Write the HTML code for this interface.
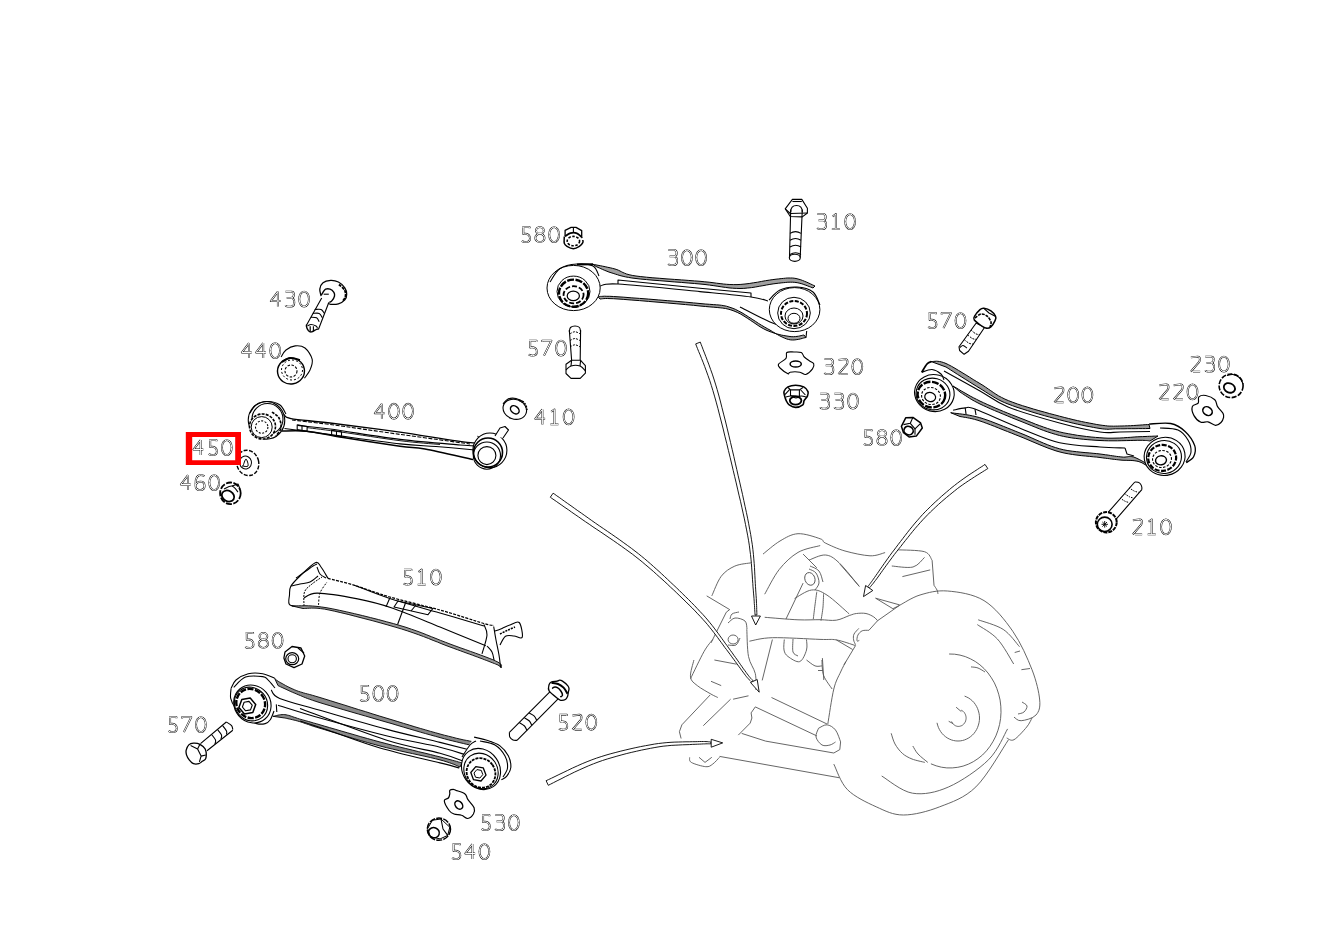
<!DOCTYPE html>
<html><head><meta charset="utf-8"><style>
html,body{margin:0;padding:0;background:#fff;width:1326px;height:938px;overflow:hidden}
svg{display:block}
</style></head><body>
<svg width="1326" height="938" viewBox="0 0 1326 938">
<g fill="none" stroke="#000" stroke-width="1.1" stroke-linejoin="round" stroke-linecap="butt">
<g id="p300">
<path d="M593.0,264.3 L594.3,264.6 L596.0,264.9 L598.0,265.3 L600.3,265.7 L602.7,266.2 L605.2,266.7 L607.8,267.3 L610.3,267.8 L612.7,268.4 L615.0,269.0 L616.9,269.6 L618.6,270.3 L620.0,271.0 L621.4,271.7 L622.9,272.5 L624.6,273.2 L626.6,274.0 L629.1,274.7 L632.2,275.4 L636.0,276.0 L640.8,276.6 L646.5,277.2 L652.9,277.8 L659.8,278.3 L667.0,278.9 L674.3,279.4 L681.4,279.9 L688.2,280.4 L694.5,280.9 L700.0,281.3 L704.8,281.8 L709.1,282.2 L713.0,282.7 L716.6,283.2 L720.1,283.6 L723.4,284.0 L726.6,284.3 L729.9,284.5 L733.3,284.6 L737.0,284.6 L740.9,284.4 L745.0,284.0 L749.2,283.5 L753.4,282.8 L757.6,282.2 L761.7,281.4 L765.6,280.7 L769.4,280.1 L772.9,279.6 L776.0,279.2 L778.8,278.9 L781.2,278.6 L783.4,278.4 L785.4,278.2 L787.2,278.0 L789.0,278.0 L790.7,278.0 L792.4,278.0 L794.1,278.2 L796.0,278.5 L798.0,279.0 L800.2,279.6 L802.4,280.4 L804.6,281.3 L806.8,282.2 L808.8,283.1 L810.7,284.0 L812.4,284.8 L813.9,285.5 L815.0,286.0 L813.0,288.0 L812.0,287.6 L810.7,287.1 L809.2,286.5 L807.6,285.9 L805.8,285.2 L803.8,284.5 L801.9,283.8 L799.9,283.3 L797.9,282.8 L796.0,282.5 L794.2,282.3 L792.4,282.2 L790.7,282.2 L789.0,282.2 L787.2,282.3 L785.3,282.5 L783.3,282.7 L781.1,282.9 L778.7,283.2 L776.0,283.5 L773.1,283.9 L769.9,284.4 L766.5,285.0 L762.9,285.7 L759.2,286.3 L755.5,287.0 L751.6,287.6 L747.7,288.0 L743.8,288.4 L740.0,288.5 L736.3,288.4 L732.6,288.2 L729.0,287.9 L725.4,287.4 L721.8,286.9 L717.9,286.3 L713.9,285.7 L709.6,285.1 L705.0,284.5 L700.0,284.0 L694.4,283.5 L688.1,283.0 L681.3,282.4 L674.2,281.9 L667.0,281.3 L659.9,280.7 L653.0,280.2 L646.6,279.6 L640.9,279.1 L636.0,278.5 L631.9,278.0 L628.5,277.4 L625.6,276.9 L623.1,276.3 L621.0,275.8 L619.1,275.3 L617.4,274.7 L615.6,274.2 L613.9,273.6 L612.0,273.0 L610.0,272.4 L608.0,271.7 L606.1,270.9 L604.3,270.2 L602.5,269.4 L600.9,268.7 L599.4,268.0 L598.0,267.4 L596.9,266.9 L596.0,266.5Z" fill="#a0a0a0" stroke="#000" stroke-width="1"/>
<path d="M577.0,264.5L593.0,264.3" fill="none" stroke="#000" stroke-width="2"/>
<path d="M618.0,284.0 L618.0,280.0 L700.0,288.3 L751.0,293.0 L751.0,297.0" fill="none" stroke="#000" stroke-width="1.1"/>
<path d="M600.0,286.0C603.0,285.7 601.3,283.1 618.0,284.0C634.7,284.9 677.8,289.4 700.0,291.6C722.2,293.8 739.7,295.4 751.0,297.0C762.3,298.6 765.2,300.3 768.0,301.0" fill="none" stroke="#000" stroke-width="1.1"/>
<path d="M598.0,296.6 L598.9,296.6 L599.7,296.5 L600.6,296.4 L601.6,296.4 L602.9,296.3 L604.6,296.2 L606.8,296.3 L609.7,296.3 L613.4,296.5 L618.0,296.8 L623.9,297.2 L631.2,297.8 L639.6,298.4 L648.7,299.1 L658.2,299.9 L667.8,300.7 L677.1,301.4 L685.8,302.2 L693.5,302.9 L700.0,303.5 L705.2,304.0 L709.6,304.3 L713.3,304.6 L716.4,304.8 L719.1,305.0 L721.6,305.3 L723.9,305.7 L726.4,306.2 L729.0,307.0 L732.0,308.0 L735.3,309.3 L738.6,311.0 L742.0,312.8 L745.4,314.9 L748.7,317.0 L752.1,319.2 L755.4,321.3 L758.5,323.4 L761.6,325.3 L764.5,327.0 L767.3,328.6 L770.0,330.1 L772.6,331.7 L775.1,333.2 L777.5,334.6 L779.8,335.9 L782.1,337.0 L784.3,338.0 L786.5,338.9 L788.6,339.5 L790.7,339.9 L792.8,340.0 L794.9,339.9 L796.9,339.6 L798.8,339.3 L800.6,338.9 L802.3,338.4 L803.7,338.0 L805.0,337.7 L806.0,337.5 L804.0,335.0 L803.2,335.1 L802.3,335.3 L801.1,335.6 L799.9,335.9 L798.5,336.2 L797.0,336.4 L795.4,336.6 L793.7,336.7 L791.9,336.7 L790.0,336.5 L788.0,336.2 L786.0,335.9 L783.8,335.5 L781.5,335.1 L779.1,334.5 L776.7,333.9 L774.1,333.1 L771.5,332.2 L768.8,331.2 L766.0,330.0 L763.1,328.5 L760.1,326.8 L757.1,324.8 L753.9,322.6 L750.6,320.4 L747.3,318.2 L744.0,316.1 L740.7,314.1 L737.3,312.4 L734.0,311.0 L730.9,309.9 L728.1,309.1 L725.5,308.5 L722.8,308.1 L720.1,307.8 L717.2,307.5 L713.8,307.2 L709.9,306.9 L705.4,306.5 L700.0,306.0 L693.5,305.3 L685.6,304.6 L676.9,303.8 L667.6,303.0 L658.0,302.2 L648.5,301.4 L639.4,300.6 L631.1,300.0 L623.8,299.4 L618.0,299.0 L613.5,298.7 L610.0,298.6 L607.3,298.5 L605.3,298.5 L603.9,298.6 L602.8,298.7 L602.1,298.8 L601.4,298.9 L600.8,299.0 L600.0,299.0Z" fill="#a0a0a0" stroke="#000" stroke-width="1"/>
<path d="M806.0,337.5L806.7,331.0" fill="none" stroke="#000" stroke-width="1.1"/>
<path d="M740.0,307.0C745.0,309.5 760.8,318.0 770.0,322.0C779.2,326.0 790.8,329.5 795.0,331.0" fill="none" stroke="#000" stroke-width="1.1"/>
<ellipse cx="573.6" cy="288.0" rx="26.6" ry="22.6" fill="#fff" stroke="#000" stroke-width="1"/>
<path d="M550.0,282.0C551.7,279.8 555.5,271.5 560.0,268.5C564.5,265.5 571.5,264.4 577.0,264.0C582.5,263.6 589.3,264.0 593.0,266.0C596.7,268.0 598.0,274.3 599.0,276.0" fill="none" stroke="#000" stroke-width="1.1"/>
<ellipse cx="573.5" cy="291.5" rx="16.5" ry="15.4" fill="none" stroke="#000" stroke-width="1"/>
<ellipse cx="573.6" cy="293.2" rx="14.6" ry="13.6" fill="none" stroke="#000" stroke-width="2.4" stroke-dasharray="7 1.5"/>
<ellipse cx="573.6" cy="294.8" rx="10.0" ry="8.6" fill="none" stroke="#000" stroke-width="1.8" stroke-dasharray="5 2"/>
<ellipse cx="573.3" cy="295.9" rx="6.1" ry="4.8" fill="none" stroke="#000" stroke-width="1.2"/>
<ellipse cx="794.6" cy="309.6" rx="25.3" ry="22.0" fill="#fff" stroke="#000" stroke-width="1"/>
<path d="M769.0,300.0C770.8,298.3 775.3,292.2 780.0,290.0C784.7,287.8 791.5,286.7 797.0,287.0C802.5,287.3 809.2,289.0 813.0,292.0C816.8,295.0 818.8,302.8 820.0,305.0" fill="none" stroke="#000" stroke-width="1.1"/>
<ellipse cx="794.0" cy="313.0" rx="16.3" ry="15.7" fill="none" stroke="#000" stroke-width="1"/>
<ellipse cx="794.0" cy="313.5" rx="13.0" ry="12.5" fill="none" stroke="#000" stroke-width="2" stroke-dasharray="4 1.5"/>
<ellipse cx="794.0" cy="316.0" rx="9.0" ry="8.0" fill="none" stroke="#000" stroke-width="1"/>
<ellipse cx="794.0" cy="318.3" rx="6.0" ry="5.0" fill="none" stroke="#000" stroke-width="1"/>
</g>
<g id="p310">
<path d="M792.4,199.4 L801.8,199.4 L807.4,208.3 L807.4,213.0 L802.3,216.9 L790.3,216.5 L785.2,208.8Z" fill="#fff" stroke="#000" stroke-width="1.1"/>
<path d="M785.2,208.8 L790.3,213.5 L807.4,213.0" fill="none" stroke="#000" stroke-width="1.1"/>
<path d="M790.7,209.5 L789.5,257.5 M802.3,209.6 L800.2,257.5" fill="none" stroke="#000" stroke-width="1.1"/>
<path d="M790.7,212 Q790.7,205.5 796.5,205.5 Q802.3,205.5 802.3,212" fill="none" stroke="#000" stroke-width="1.1"/>
<path d="M792.4,201.5 L801.8,201.5" fill="none" stroke="#000" stroke-width="1.1"/>
<ellipse cx="794.8" cy="257.8" rx="5.5" ry="3.6" fill="none" stroke="#000" stroke-width="1.1"/>
<path d="M790,233.4 Q795.5,229.9 801,233.4" fill="none" stroke="#000" stroke-width="1.1"/>
<path d="M790,240.2 Q795.5,236.7 801,240.2" fill="none" stroke="#000" stroke-width="1.1"/>
<path d="M790,247.0 Q795.5,243.5 801,247.0" fill="none" stroke="#000" stroke-width="1.1"/>
<path d="M790,254.5 Q795.5,251 801,254.5" fill="none" stroke="#000" stroke-width="1.1"/>
</g>
<g id="p580a">
<path d="M565.1,236.2 L565.1,230.4 L571.1,227.4 L576.0,227.4 L581.7,230.6 L581.7,236.0" fill="#fff" stroke="#000" stroke-width="1.3"/>
<path d="M573.4,227.4 L573.4,232.4" fill="none" stroke="#000" stroke-width="1.1"/>
<path d="M564.3,236.6C564.3,237.7 563.8,241.8 564.3,243.4C564.8,245.0 565.5,245.5 567.0,246.4C568.5,247.3 571.3,248.7 573.4,248.7C575.5,248.7 577.8,247.4 579.4,246.4C581.0,245.4 582.2,243.7 582.8,242.6C583.4,241.5 582.8,240.4 582.8,240.0" fill="#fff" stroke="#000" stroke-width="1.5"/>
<path d="M565.1,236.4C566.0,235.9 568.5,233.7 570.4,233.2C572.3,232.7 574.4,232.4 576.4,233.2C578.4,233.9 581.4,236.9 582.4,237.7" fill="none" stroke="#000" stroke-width="1.8"/>
<ellipse cx="573.4" cy="241.1" rx="6.2" ry="4.7" fill="none" stroke="#000" stroke-width="1.6" stroke-dasharray="2.5 1.5"/>
</g>
<g id="p570a">
<path d="M569.3,330 L571.6,360 M580.6,330 L580.2,360" fill="none" stroke="#000" stroke-width="1.1"/>
<path d="M569.3,332.0C569.5,331.2 569.5,328.5 570.5,327.5C571.5,326.5 573.5,326.0 575.0,326.0C576.5,326.0 578.6,326.5 579.5,327.5C580.4,328.5 580.4,331.2 580.6,332.0" fill="none" stroke="#000" stroke-width="1.1"/>
<path d="M570.0,333.7C570.8,333.4 573.3,331.7 575.0,331.7C576.7,331.7 579.2,333.4 580.0,333.7" fill="none" stroke="#000" stroke-width="1" stroke-dasharray="2 1.2"/>
<path d="M570.0,340.5C570.8,340.2 573.3,338.5 575.0,338.5C576.7,338.5 579.2,340.2 580.0,340.5" fill="none" stroke="#000" stroke-width="1" stroke-dasharray="2 1.2"/>
<path d="M570.0,346.8C570.8,346.5 573.3,344.8 575.0,344.8C576.7,344.8 579.2,346.5 580.0,346.8" fill="none" stroke="#000" stroke-width="1" stroke-dasharray="2 1.2"/>
<path d="M566.0,364.3 L571.6,360.3 L580.6,360.3 L585.4,365.7 L585.4,373.2 L580.2,378.4 L571.0,378.4 L566.0,373.5Z" fill="#fff" stroke="#000" stroke-width="1.1"/>
<path d="M566.0,370.0C566.8,369.3 568.7,366.7 571.0,366.0C573.3,365.3 577.6,365.2 580.0,366.0C582.4,366.8 584.6,370.2 585.5,371.0" fill="none" stroke="#000" stroke-width="1.1"/>
<path d="M571.6,360.3 L571,366 M580.6,360.3 L580,366" fill="none" stroke="#000" stroke-width="1.1"/>
</g>
<g id="p320">
<path d="M786.8,352.5C788.1,351.4 791.6,352.0 794.0,352.0C796.4,352.0 799.6,351.7 801.3,352.5C803.0,353.3 802.9,355.6 804.3,357.0C805.7,358.4 808.0,359.9 809.6,361.0C811.2,362.1 813.2,362.4 813.7,363.7C814.2,365.0 813.8,367.1 812.5,368.9C811.2,370.7 807.9,373.9 805.8,374.5C803.7,375.1 802.5,372.6 799.9,372.2C797.3,371.8 792.0,371.9 790.0,372.2C788.0,372.4 789.7,374.4 788.0,373.7C786.3,373.0 781.6,369.6 780.0,368.0C778.4,366.4 777.6,365.6 778.6,364.0C779.6,362.4 784.6,360.3 786.0,358.4C787.4,356.5 785.5,353.6 786.8,352.5Z" fill="none" stroke="#000" stroke-width="1.1"/>
<ellipse cx="795.7" cy="364.0" rx="5.6" ry="3.1" fill="none" stroke="#000" stroke-width="1.5"/>
</g>
<g id="p330">
<path d="M784.1,391.2C784.7,389.8 786.0,387.9 787.9,386.9C789.8,385.9 793.0,385.2 795.6,385.2C798.2,385.2 801.6,385.8 803.7,386.9C805.8,388.0 807.4,390.1 808.0,391.6C808.6,393.1 808.1,394.4 807.5,395.9C806.9,397.4 804.9,399.1 804.1,400.6C803.3,402.1 804.2,403.8 802.8,404.9C801.4,406.0 797.9,407.4 795.6,407.4C793.3,407.4 790.8,406.0 789.2,404.9C787.6,403.8 787.0,402.2 786.2,400.6C785.4,399.0 784.9,397.1 784.5,395.5C784.1,393.9 783.5,392.6 784.1,391.2Z" fill="#fff" stroke="#000" stroke-width="1.6"/>
<path d="M790.5,389.9 L799.4,389.9 L799.4,396.3 L790.5,395.5Z" fill="none" stroke="#000" stroke-width="1.1"/>
<path d="M784.9,394.6 L790.0,389.1" fill="none" stroke="#000" stroke-width="1.1"/>
<path d="M800.3,389.5 L805.4,395.0" fill="none" stroke="#000" stroke-width="1.1"/>
<path d="M788.0,387.5 L790.5,389.9" fill="none" stroke="#000" stroke-width="1.1"/>
<path d="M799.4,389.9 L803.0,387.5" fill="none" stroke="#000" stroke-width="1.1"/>
<ellipse cx="795.6" cy="400.6" rx="5.8" ry="4.0" fill="none" stroke="#000" stroke-width="1.8"/>
<path d="M786.0,397.0C786.8,396.8 789.3,395.8 791.0,396.0C792.7,396.2 794.3,398.0 796.0,398.0C797.7,398.0 799.3,396.2 801.0,396.0C802.7,395.8 805.2,396.8 806.0,397.0" fill="none" stroke="#000" stroke-width="1.1"/>
</g>
<g id="p400">
<path d="M284.0,414.5C285.2,415.2 283.3,417.2 291.0,418.6C298.7,420.0 311.8,420.8 330.0,423.0C348.2,425.2 376.2,428.8 400.0,432.1C423.8,435.4 460.0,442.2 473.0,442.8C486.0,443.4 477.2,437.1 478.0,436.0" fill="none" stroke="#000" stroke-width="1.3"/>
<path d="M292.0,420.0C298.3,420.8 312.0,422.1 330.0,424.5C348.0,426.9 376.7,431.1 400.0,434.4C423.3,437.6 458.3,442.4 470.0,444.0" fill="none" stroke="#000" stroke-width="1.1" stroke-dasharray="4 1.5"/>
<path d="M298.0,425.4C303.3,426.0 313.0,426.7 330.0,429.0C347.0,431.3 378.3,436.7 400.0,439.4C421.7,442.1 447.3,443.9 460.0,445.0C472.7,446.1 473.3,445.8 476.0,446.0" fill="none" stroke="#000" stroke-width="1.1"/>
<path d="M307.0,427.6C312.8,428.4 326.0,429.9 341.5,432.1C357.0,434.3 383.6,438.6 400.0,440.7C416.4,442.8 433.3,443.9 440.0,444.5" fill="none" stroke="#000" stroke-width="0.9"/>
<path d="M284.5,428.5C292.5,429.6 313.2,432.3 332.5,434.9C351.8,437.5 382.8,442.0 400.0,443.9C417.2,445.8 423.5,445.5 436.0,446.5C448.5,447.5 468.5,449.4 475.0,450.0" fill="none" stroke="#000" stroke-width="1.1"/>
<path d="M282.0,431.0C286.2,431.0 296.8,430.1 307.0,431.2C317.2,432.3 327.8,435.1 343.3,437.6C358.8,440.1 386.4,444.3 400.0,446.2C413.6,448.1 412.8,446.8 425.0,449.0C437.2,451.2 465.0,457.8 473.0,459.5" fill="none" stroke="#000" stroke-width="1.5"/>
<path d="M297.2,424.9 L307.1,426.5 L307.1,431.2 L297.2,429.6Z" fill="none" stroke="#000" stroke-width="1.1"/>
<path d="M302.0,425.7 L302.0,430.4" fill="none" stroke="#000" stroke-width="1.1"/>
<path d="M331.6,430.3 L341.5,431.8 L341.5,436.7 L331.6,435.2Z" fill="none" stroke="#000" stroke-width="1.1"/>
<path d="M336.5,431.0 L336.5,436.0" fill="none" stroke="#000" stroke-width="1.1"/>
<ellipse cx="489.9" cy="450.3" rx="17.0" ry="17.3" fill="#fff" stroke="#000" stroke-width="1.1"/>
<ellipse cx="488.0" cy="452.5" rx="14.5" ry="14.5" fill="none" stroke="#000" stroke-width="1.6"/>
<ellipse cx="486.9" cy="455.6" rx="13.6" ry="13.6" fill="none" stroke="#000" stroke-width="1.1"/>
<ellipse cx="486.9" cy="455.6" rx="9.0" ry="9.0" fill="none" stroke="#000" stroke-width="1.1"/>
<path d="M495.0,436.0 L500.0,428.0 L505.0,426.5 L508.5,430.0 L503.0,438.0" fill="#fff" stroke="#000" stroke-width="1.1"/>
<ellipse cx="266.5" cy="420.3" rx="18.2" ry="18.8" transform="rotate(-10 266.5 420.3)" fill="#fff" stroke="#000" stroke-width="1.1"/>
<path d="M250.0,413.0C251.0,411.7 253.0,406.9 256.0,405.0C259.0,403.1 264.0,401.5 268.0,401.5C272.0,401.5 277.0,402.9 280.0,405.0C283.0,407.1 285.0,412.5 286.0,414.0" fill="none" stroke="#000" stroke-width="1.1"/>
<ellipse cx="267.5" cy="419.0" rx="15.5" ry="15.5" fill="none" stroke="#000" stroke-width="1.1"/>
<ellipse cx="262.5" cy="426.5" rx="13.0" ry="12.5" fill="#fff" stroke="#000" stroke-width="1.6" stroke-dasharray="3 1.2"/>
<ellipse cx="261.7" cy="427.1" rx="10.5" ry="10.5" fill="none" stroke="#000" stroke-width="1"/>
<ellipse cx="261.7" cy="427.1" rx="6.2" ry="6.2" fill="none" stroke="#000" stroke-width="1.1" stroke-dasharray="2 1.5"/>
<path d="M272.0,412.0C273.2,413.0 277.5,415.3 279.0,418.0C280.5,420.7 281.5,425.0 281.0,428.0C280.5,431.0 276.8,434.7 276.0,436.0" fill="none" stroke="#000" stroke-width="1.6" stroke-dasharray="3 1"/>
</g>
<g id="p410">
<ellipse cx="514.8" cy="409.3" rx="12.0" ry="9.8" transform="rotate(20 514.8 409.3)" fill="#fff" stroke="#000" stroke-width="1.1"/>
<path d="M503.0,404.0C503.8,403.2 505.8,399.9 508.0,399.0C510.2,398.1 513.3,398.0 516.0,398.5C518.7,399.0 522.7,401.4 524.0,402.0" fill="none" stroke="#000" stroke-width="1.1"/>
<ellipse cx="514.8" cy="409.8" rx="4.8" ry="3.5" transform="rotate(40 514.8 409.8)" fill="none" stroke="#000" stroke-width="1.5"/>
<path d="M519.0,400.0C520.0,400.7 523.7,402.3 525.0,404.0C526.3,405.7 526.7,409.0 527.0,410.0" fill="none" stroke="#000" stroke-width="1.8" stroke-dasharray="2 1"/>
</g>
<g id="p430">
<path d="M321.7,298 L307,324.2 M328.8,302.5 L318.5,329.3" fill="none" stroke="#000" stroke-width="1.1"/>
<path d="M307.0,324.2C306.9,324.5 306.2,325.1 306.4,326.2C306.6,327.3 307.4,329.7 308.3,330.6C309.2,331.6 310.1,332.1 311.5,331.9C312.9,331.7 315.4,329.7 316.6,329.3C317.8,328.9 318.2,329.3 318.5,329.3" fill="none" stroke="#000" stroke-width="1.4"/>
<path d="M310.2,326.2 L310.2,331.3" fill="none" stroke="#000" stroke-width="1.2"/>
<path d="M313.4,326.2 L313.4,331.3" fill="none" stroke="#000" stroke-width="1.1"/>
<path d="M307.5,326.0C308.1,325.8 309.6,324.5 311.0,324.5C312.4,324.5 314.9,325.4 316.0,326.0C317.1,326.6 317.2,327.7 317.5,328.0" fill="none" stroke="#000" stroke-width="1.1"/>
<path d="M314.7,309.5C315.8,309.5 319.5,308.9 321.1,309.5C322.7,310.1 323.8,312.8 324.3,313.4" fill="none" stroke="#000" stroke-width="1.1"/>
<path d="M312.8,313.4C313.9,313.4 317.6,312.7 319.2,313.4C320.8,314.1 321.9,317.1 322.4,317.8" fill="none" stroke="#000" stroke-width="1.1"/>
<path d="M310.9,317.2C311.8,317.3 315.2,317.1 316.6,317.8C318.0,318.6 318.8,321.1 319.2,321.7" fill="none" stroke="#000" stroke-width="1.1"/>
<path d="M321.1,296.1C320.9,294.9 319.5,291.3 319.8,289.1C320.1,286.9 321.2,284.1 323.0,282.7C324.8,281.2 328.1,280.5 330.7,280.4C333.3,280.3 336.0,280.8 338.4,282.0C340.8,283.2 343.4,285.8 344.8,287.8C346.2,289.8 346.7,292.2 346.7,294.2C346.7,296.2 346.2,298.3 344.8,299.9C343.4,301.5 340.8,303.1 338.4,303.8C336.0,304.6 332.4,304.5 330.7,304.4C329.0,304.3 328.5,303.3 328.1,303.1" fill="none" stroke="#000" stroke-width="1.3"/>
<path d="M339.0,284.5C339.9,285.4 343.4,288.1 344.5,290.0C345.6,291.9 345.8,294.2 345.5,296.0C345.2,297.8 343.4,300.2 343.0,301.0" fill="none" stroke="#000" stroke-width="1.8" stroke-dasharray="3 1"/>
<path d="M321.3,295.0C321.6,294.6 322.3,293.3 323.0,292.3C323.7,291.3 324.4,289.6 325.6,289.1C326.8,288.6 328.6,288.6 330.0,289.1C331.4,289.6 333.1,291.1 333.9,292.3C334.6,293.5 334.8,294.7 334.5,296.1C334.2,297.5 332.9,299.5 332.0,300.6C331.1,301.7 329.8,302.2 329.4,302.5" fill="none" stroke="#000" stroke-width="1.4"/>
<path d="M323.7,294.2 L328.8,294.2" fill="none" stroke="#000" stroke-width="1.1"/>
</g>
<g id="p440">
<path d="M281.1,357.0C281.9,355.8 283.6,351.9 286.0,350.0C288.4,348.1 292.0,346.2 295.2,345.9C298.4,345.6 302.2,345.8 305.0,348.0C307.8,350.2 311.4,355.7 312.2,359.4C313.0,363.1 311.3,366.9 310.0,370.0C308.7,373.1 305.4,376.8 304.5,378.2" fill="#fff" stroke="#000" stroke-width="1.1"/>
<ellipse cx="291.0" cy="371.1" rx="13.5" ry="12.9" transform="rotate(-10 291 371.1)" fill="#fff" stroke="#000" stroke-width="1.4"/>
<ellipse cx="292.0" cy="370.0" rx="10.5" ry="10.0" fill="none" stroke="#000" stroke-width="1" stroke-dasharray="2 2"/>
<ellipse cx="291.0" cy="371.0" rx="6.0" ry="6.0" fill="none" stroke="#000" stroke-width="1.1" stroke-dasharray="2.5 1.5"/>
<path d="M282.0,362.0C283.3,361.3 287.0,358.3 290.0,358.0C293.0,357.7 298.3,359.7 300.0,360.0" fill="none" stroke="#000" stroke-width="2"/>
</g>
<g id="p450">
<ellipse cx="247.7" cy="462.9" rx="11.0" ry="12.8" transform="rotate(-15 247.7 462.9)" fill="none" stroke="#000" stroke-width="1.4" stroke-dasharray="4 1.5"/>
<ellipse cx="245.5" cy="462.5" rx="6.0" ry="6.5" transform="rotate(-15 245.5 462.5)" fill="none" stroke="#000" stroke-width="1"/>
<path d="M243.0,466.0C243.5,464.8 245.2,459.0 246.0,459.0C246.8,459.0 248.7,464.8 248.0,466.0C247.3,467.2 243.0,466.0 242.0,466.0" fill="none" stroke="#000" stroke-width="1"/>
</g>
<g id="p460">
<ellipse cx="230.4" cy="493.3" rx="10.3" ry="10.8" fill="#fff" stroke="#000" stroke-width="1.8" stroke-dasharray="6 1.5"/>
<ellipse cx="228.0" cy="496.0" rx="6.5" ry="5.2" transform="rotate(30 228 496)" fill="none" stroke="#000" stroke-width="1.8"/>
<path d="M224.0,489.0C225.3,488.5 229.7,485.5 232.0,486.0C234.3,486.5 237.0,491.0 238.0,492.0" fill="none" stroke="#000" stroke-width="1.1"/>
<path d="M232.0,486.0 L238.0,484.0 L240.0,489.0" fill="none" stroke="#000" stroke-width="1.1"/>
</g>
<g id="p200">
<path d="M931.0,361.5 L931.8,361.5 L932.7,361.5 L933.8,361.4 L935.0,361.3 L936.4,361.2 L937.9,361.3 L939.6,361.5 L941.5,361.9 L943.7,362.6 L946.0,363.5 L948.7,364.8 L951.7,366.4 L955.0,368.3 L958.5,370.4 L962.1,372.6 L965.9,374.9 L969.6,377.2 L973.2,379.5 L976.7,381.6 L980.0,383.6 L983.0,385.4 L985.7,387.2 L988.3,389.0 L990.8,390.7 L993.2,392.4 L995.8,394.1 L998.5,395.8 L1001.5,397.4 L1004.9,399.1 L1008.6,400.7 L1012.8,402.3 L1017.5,404.0 L1022.6,405.7 L1027.9,407.3 L1033.4,409.0 L1038.9,410.6 L1044.4,412.1 L1049.7,413.6 L1054.8,414.9 L1059.6,416.2 L1064.2,417.4 L1068.7,418.5 L1073.1,419.6 L1077.4,420.6 L1081.6,421.5 L1085.7,422.4 L1089.6,423.1 L1093.3,423.8 L1096.8,424.5 L1100.0,425.0 L1102.9,425.4 L1105.5,425.7 L1107.8,426.0 L1109.9,426.1 L1111.8,426.1 L1113.7,426.2 L1115.6,426.1 L1117.6,426.1 L1119.7,426.0 L1122.0,426.0 L1124.6,425.9 L1127.5,425.8 L1130.6,425.7 L1133.7,425.5 L1136.9,425.3 L1139.9,425.1 L1142.7,424.9 L1145.2,424.7 L1147.4,424.6 L1149.0,424.5 L1150.0,428.5 L1148.0,428.5 L1145.4,428.6 L1142.3,428.6 L1138.8,428.6 L1135.1,428.7 L1131.3,428.7 L1127.6,428.7 L1124.0,428.8 L1120.8,428.8 L1118.0,428.8 L1115.7,428.8 L1113.9,428.9 L1112.3,429.0 L1110.9,429.1 L1109.5,429.2 L1108.1,429.3 L1106.6,429.2 L1104.8,429.1 L1102.6,428.9 L1100.0,428.5 L1096.9,428.0 L1093.5,427.4 L1089.9,426.7 L1086.0,426.0 L1081.9,425.1 L1077.6,424.2 L1073.2,423.2 L1068.8,422.1 L1064.2,421.0 L1059.6,419.8 L1054.8,418.5 L1049.6,417.1 L1044.2,415.6 L1038.6,414.0 L1033.0,412.3 L1027.5,410.6 L1022.1,408.9 L1017.0,407.3 L1012.3,405.6 L1008.0,404.0 L1004.3,402.5 L1001.0,401.0 L998.1,399.5 L995.4,398.0 L992.9,396.5 L990.5,395.0 L988.1,393.5 L985.6,391.9 L982.9,390.2 L980.0,388.4 L976.7,386.4 L973.0,384.1 L969.2,381.7 L965.2,379.2 L961.2,376.7 L957.4,374.3 L953.9,372.0 L950.7,370.0 L948.1,368.3 L946.0,367.0Z" fill="#9a9a9a" stroke="#000" stroke-width="1"/>
<path d="M944.0,371.0C950.0,374.3 969.3,384.9 980.0,390.9C990.7,396.9 994.7,401.6 1008.0,407.0C1021.3,412.4 1044.3,418.8 1059.6,423.0C1074.9,427.2 1089.9,430.5 1100.0,432.0C1110.1,433.5 1111.7,432.1 1120.0,432.0C1128.3,431.9 1145.0,431.6 1150.0,431.5" fill="none" stroke="#000" stroke-width="1.1"/>
<path d="M953.0,386.0 L954.5,386.9 L956.5,388.0 L958.7,389.4 L961.2,390.9 L964.0,392.5 L967.0,394.2 L970.1,396.0 L973.3,397.7 L976.7,399.4 L980.0,401.1 L983.5,402.7 L987.2,404.4 L991.1,406.1 L995.1,407.9 L999.2,409.6 L1003.4,411.4 L1007.6,413.1 L1011.8,414.8 L1016.0,416.4 L1020.0,418.0 L1024.0,419.5 L1027.9,421.1 L1031.8,422.6 L1035.6,424.2 L1039.5,425.6 L1043.4,427.0 L1047.4,428.4 L1051.4,429.7 L1055.4,430.8 L1059.6,431.9 L1063.9,432.9 L1068.3,433.7 L1072.8,434.5 L1077.4,435.3 L1082.0,435.9 L1086.6,436.5 L1091.1,437.0 L1095.6,437.4 L1099.9,437.7 L1104.0,438.0 L1108.0,438.2 L1112.0,438.2 L1116.0,438.1 L1119.9,438.0 L1123.7,437.8 L1127.3,437.5 L1130.8,437.3 L1134.1,437.0 L1137.2,436.8 L1140.0,436.7 L1142.6,436.6 L1145.0,436.5 L1147.3,436.4 L1149.4,436.3 L1151.2,436.3 L1153.0,436.2 L1154.5,436.1 L1155.8,436.1 L1157.0,436.0 L1158.0,436.0 L1150.0,441.0 L1149.5,441.0 L1149.1,440.9 L1148.7,440.8 L1148.2,440.7 L1147.5,440.6 L1146.6,440.5 L1145.5,440.5 L1144.1,440.4 L1142.3,440.3 L1140.0,440.3 L1137.2,440.3 L1133.9,440.4 L1130.2,440.5 L1126.2,440.6 L1121.9,440.7 L1117.5,440.8 L1113.0,440.8 L1108.5,440.8 L1104.2,440.7 L1100.0,440.5 L1096.0,440.3 L1091.9,440.0 L1087.9,439.7 L1083.8,439.3 L1079.8,438.9 L1075.7,438.4 L1071.7,437.9 L1067.6,437.2 L1063.6,436.4 L1059.6,435.5 L1055.6,434.4 L1051.6,433.2 L1047.7,431.9 L1043.7,430.5 L1039.8,429.0 L1035.8,427.4 L1031.9,425.8 L1027.9,424.2 L1024.0,422.6 L1020.0,421.0 L1015.9,419.4 L1011.7,417.7 L1007.4,415.9 L1003.1,414.1 L998.8,412.3 L994.6,410.6 L990.5,408.8 L986.7,407.1 L983.2,405.5 L980.0,404.0 L977.1,402.5 L974.4,401.1 L971.9,399.7 L969.6,398.3 L967.5,396.9 L965.6,395.7 L963.9,394.6 L962.4,393.6 L961.1,392.7 L960.0,392.0Z" fill="#9a9a9a" stroke="#000" stroke-width="1"/>
<path d="M953.1,410.3C955.1,409.9 961.6,408.1 965.2,407.9C968.9,407.7 965.8,405.7 975.0,409.1C984.2,412.5 1006.5,422.8 1020.6,428.4C1034.7,434.0 1046.4,439.6 1059.6,442.7C1072.8,445.8 1089.1,446.1 1100.0,447.0C1110.9,447.9 1120.8,447.8 1125.0,448.0" fill="none" stroke="#000" stroke-width="1.1"/>
<path d="M1125.0,448.0 L1127.0,454.0 L1134.0,456.0" fill="none" stroke="#000" stroke-width="1.1"/>
<path d="M950.7,412.7 L952.4,412.9 L954.4,413.2 L956.9,413.5 L959.6,413.8 L962.6,414.2 L965.8,414.6 L969.2,415.2 L972.6,415.9 L976.1,416.7 L979.6,417.6 L983.2,418.7 L987.0,420.0 L990.9,421.4 L995.0,423.0 L999.1,424.6 L1003.3,426.3 L1007.6,428.0 L1011.8,429.7 L1015.9,431.4 L1020.0,433.0 L1024.0,434.6 L1028.0,436.3 L1031.9,438.0 L1035.9,439.8 L1039.8,441.5 L1043.7,443.2 L1047.7,444.8 L1051.6,446.3 L1055.6,447.6 L1059.6,448.8 L1063.7,449.8 L1067.9,450.6 L1072.2,451.2 L1076.6,451.7 L1080.9,452.2 L1085.1,452.6 L1089.2,452.9 L1093.1,453.3 L1096.7,453.6 L1100.0,454.0 L1103.0,454.4 L1105.7,454.8 L1108.2,455.1 L1110.6,455.5 L1112.7,455.8 L1114.7,456.1 L1116.6,456.4 L1118.5,456.6 L1120.2,456.8 L1122.0,457.0 L1123.6,457.1 L1125.0,457.1 L1126.2,456.9 L1127.3,456.8 L1128.4,456.6 L1129.4,456.5 L1130.6,456.5 L1131.8,456.6 L1133.3,456.9 L1135.0,457.5 L1137.0,458.4 L1139.3,459.5 L1141.9,460.9 L1144.5,462.4 L1147.2,464.0 L1150.0,465.7 L1152.6,467.2 L1155.0,468.7 L1157.2,470.0 L1159.0,471.0 L1160.5,471.8 L1161.9,472.5 L1163.1,473.0 L1164.1,473.5 L1165.0,473.8 L1165.8,474.1 L1166.4,474.4 L1167.0,474.6 L1167.5,474.8 L1168.0,475.0 L1158.0,474.0 L1156.9,473.2 L1155.6,472.2 L1154.0,471.0 L1152.2,469.6 L1150.2,468.1 L1148.2,466.7 L1146.1,465.2 L1144.0,464.0 L1142.0,462.8 L1140.0,462.0 L1138.1,461.4 L1136.1,461.0 L1134.1,460.7 L1132.1,460.5 L1130.1,460.4 L1128.1,460.4 L1126.1,460.3 L1124.0,460.3 L1122.0,460.2 L1120.0,460.0 L1118.1,459.8 L1116.3,459.6 L1114.6,459.4 L1113.0,459.2 L1111.2,459.0 L1109.4,458.7 L1107.5,458.5 L1105.3,458.2 L1102.8,457.9 L1100.0,457.5 L1096.8,457.1 L1093.3,456.8 L1089.5,456.4 L1085.4,456.0 L1081.2,455.6 L1077.0,455.1 L1072.6,454.5 L1068.3,453.8 L1064.1,453.0 L1060.0,452.0 L1056.0,450.9 L1052.0,449.5 L1048.0,448.1 L1044.0,446.5 L1040.0,444.9 L1036.0,443.2 L1032.0,441.5 L1028.0,439.8 L1024.0,438.1 L1020.0,436.5 L1015.9,434.9 L1011.7,433.2 L1007.4,431.5 L1003.0,429.8 L998.8,428.1 L994.6,426.4 L990.5,424.8 L986.7,423.4 L983.2,422.1 L980.0,421.0 L977.1,420.1 L974.4,419.3 L971.9,418.7 L969.6,418.2 L967.5,417.8 L965.6,417.4 L963.9,417.2 L962.4,416.9 L961.1,416.7 L960.0,416.5Z" fill="#9a9a9a" stroke="#000" stroke-width="1"/>
<path d="M965.2,407.9 L966.0,414.0" fill="none" stroke="#000" stroke-width="1.1"/>
<path d="M975.0,409.1 L976.0,415.0" fill="none" stroke="#000" stroke-width="1.1"/>
<path d="M1149.0,424.1C1152.6,424.0 1164.7,422.3 1170.7,423.5C1176.7,424.7 1181.1,427.7 1185.1,431.4C1189.1,435.1 1193.4,441.7 1194.8,445.9C1196.2,450.1 1195.0,453.9 1193.6,456.7C1192.2,459.5 1187.5,461.7 1186.3,462.7" fill="#fff" stroke="#000" stroke-width="1.3"/>
<path d="M1160.0,428.0C1163.0,428.3 1173.3,428.0 1178.0,430.0C1182.7,432.0 1185.8,436.3 1188.0,440.0C1190.2,443.7 1191.3,448.3 1191.0,452.0C1190.7,455.7 1186.8,460.3 1186.0,462.0" fill="none" stroke="#000" stroke-width="1.1"/>
<ellipse cx="1164.6" cy="456.4" rx="20.5" ry="19.0" transform="rotate(-10 1164.6 456.4)" fill="#fff" stroke="#000" stroke-width="1.1"/>
<ellipse cx="1164.0" cy="457.0" rx="17.5" ry="16.5" transform="rotate(-10 1164 457)" fill="none" stroke="#000" stroke-width="1.1"/>
<ellipse cx="1162.2" cy="457.9" rx="14.0" ry="13.0" transform="rotate(-10 1162.2 457.9)" fill="none" stroke="#000" stroke-width="2.2" stroke-dasharray="5 1.5"/>
<ellipse cx="1162.0" cy="459.0" rx="9.5" ry="8.5" transform="rotate(-10 1162 459)" fill="none" stroke="#000" stroke-width="1.1" stroke-dasharray="2.5 1.5"/>
<ellipse cx="1161.0" cy="460.3" rx="5.5" ry="4.5" transform="rotate(-10 1161 460.3)" fill="none" stroke="#000" stroke-width="1.4"/>
<path d="M921.7,372.3C922.6,370.9 925.4,365.8 927.0,364.0C928.6,362.2 930.7,361.9 931.4,361.5" fill="none" stroke="#000" stroke-width="1.8"/>
<ellipse cx="934.4" cy="393.1" rx="19.9" ry="18.4" transform="rotate(15 934.4 393.1)" fill="#fff" stroke="#000" stroke-width="1.1"/>
<ellipse cx="933.0" cy="394.0" rx="17.0" ry="15.8" transform="rotate(15 933 394)" fill="none" stroke="#000" stroke-width="1.1"/>
<ellipse cx="931.4" cy="394.6" rx="13.9" ry="12.7" transform="rotate(15 931.4 394.6)" fill="none" stroke="#000" stroke-width="2.4" stroke-dasharray="7 1.5"/>
<ellipse cx="931.0" cy="396.0" rx="9.5" ry="8.5" transform="rotate(15 931 396)" fill="none" stroke="#000" stroke-width="1.1" stroke-dasharray="2.5 1.5"/>
<ellipse cx="930.2" cy="397.0" rx="5.5" ry="4.5" transform="rotate(15 930.2 397)" fill="none" stroke="#000" stroke-width="1.2"/>
<path d="M921.7,372.3C923.4,371.8 928.8,369.2 932.0,369.5C935.2,369.8 939.0,372.2 941.0,374.0C943.0,375.8 943.5,379.0 944.0,380.0" fill="none" stroke="#000" stroke-width="1.1"/>
</g>
<g id="p570b">
<path d="M976.2,323.0 L959.0,346.7 L959.6,350.5 L964.1,354.3 L968.5,351.2 L984.5,327.5Z" fill="#fff" stroke="#000" stroke-width="1.1"/>
<path d="M971.0,330.1C971.8,330.7 974.4,333.1 975.9,333.9C977.3,334.6 979.1,334.5 979.7,334.6" fill="none" stroke="#000" stroke-width="1" stroke-dasharray="2 1"/>
<path d="M967.6,334.9C968.4,335.5 971.1,337.9 972.5,338.6C974.0,339.4 975.8,339.2 976.5,339.4" fill="none" stroke="#000" stroke-width="1" stroke-dasharray="2 1"/>
<path d="M964.2,339.6C965.0,340.2 967.7,342.6 969.2,343.3C970.8,344.1 972.6,344.0 973.3,344.1" fill="none" stroke="#000" stroke-width="1" stroke-dasharray="2 1"/>
<path d="M960.0,347.5C960.5,347.2 961.8,345.4 963.0,345.5C964.2,345.6 966.3,347.6 967.0,348.0" fill="none" stroke="#000" stroke-width="1.1"/>
<path d="M974.3,316.6C975.2,314.9 978.4,311.0 980.0,309.6C981.6,308.2 982.1,308.1 983.9,308.3C985.7,308.5 988.9,309.5 990.9,310.9C992.9,312.3 995.1,314.9 995.7,316.6C996.4,318.3 995.6,319.4 994.8,321.1C994.0,322.8 992.4,325.7 990.9,326.9C989.4,328.1 987.8,328.6 985.8,328.1C983.8,327.6 980.9,325.4 979.0,324.0C977.1,322.6 975.1,321.2 974.3,320.0C973.5,318.8 973.3,318.3 974.3,316.6Z" fill="#fff" stroke="#000" stroke-width="1.5"/>
<path d="M975.0,318.0C976.0,317.3 979.0,314.3 981.0,314.0C983.0,313.7 985.3,314.7 987.0,316.0C988.7,317.3 990.5,320.2 991.0,322.0C991.5,323.8 990.2,326.2 990.0,327.0" fill="none" stroke="#000" stroke-width="1.6" stroke-dasharray="3 1"/>
<path d="M983.9,308.3 L989.0,313.0 L995.7,316.6" fill="none" stroke="#000" stroke-width="1.1"/>
</g>
<g id="p580b">
<path d="M905.7,417.8 L912.9,417.4 L920.6,422.9 L922.3,428.0 L916.3,436.1 L909.1,437.0 L903.5,432.7 L901.4,426.3Z" fill="#fff" stroke="#000" stroke-width="1.5"/>
<path d="M903.5,424.6 L910.3,423.3 L912.9,417.4" fill="none" stroke="#000" stroke-width="1.1"/>
<path d="M910.3,423.3 L915.0,428.9 L920.6,423.3" fill="none" stroke="#000" stroke-width="1.1"/>
<path d="M915.0,428.9 L915.0,434.8" fill="none" stroke="#000" stroke-width="1.1"/>
<ellipse cx="908.6" cy="430.6" rx="4.7" ry="4.2" transform="rotate(30 908.6 430.6)" fill="none" stroke="#000" stroke-width="1.6"/>
</g>
<g id="p220">
<path d="M1198.9,396.9C1200.2,395.6 1203.2,395.0 1205.8,395.5C1208.4,396.0 1212.8,397.8 1214.8,399.7C1216.8,401.6 1216.2,404.3 1217.6,406.6C1219.0,408.9 1222.1,411.6 1223.1,413.5C1224.1,415.4 1223.8,416.2 1223.5,417.7C1223.2,419.2 1222.3,421.2 1221.0,422.5C1219.7,423.8 1217.7,425.4 1215.5,425.3C1213.3,425.2 1210.3,422.3 1207.9,421.8C1205.5,421.3 1203.2,423.2 1200.9,422.2C1198.6,421.2 1195.4,418.2 1194.0,415.6C1192.6,413.0 1191.6,408.7 1192.3,406.6C1193.0,404.5 1197.1,404.7 1198.2,403.1C1199.3,401.5 1197.6,398.2 1198.9,396.9Z" fill="none" stroke="#000" stroke-width="1.2"/>
<ellipse cx="1207.5" cy="411.1" rx="5.0" ry="4.0" transform="rotate(35 1207.5 411.1)" fill="none" stroke="#000" stroke-width="1.6"/>
</g>
<g id="p230">
<ellipse cx="1231.1" cy="385.8" rx="12.0" ry="11.8" fill="#fff" stroke="#000" stroke-width="1.6" stroke-dasharray="5 1.5"/>
<path d="M1227.0,375.5C1228.0,375.3 1230.8,374.1 1233.0,374.5C1235.2,374.9 1238.3,376.4 1240.0,378.0C1241.7,379.6 1242.5,383.0 1243.0,384.0" fill="none" stroke="#000" stroke-width="1.1"/>
<ellipse cx="1229.4" cy="387.9" rx="5.8" ry="4.6" transform="rotate(25 1229.4 387.9)" fill="none" stroke="#000" stroke-width="1.8"/>
</g>
<g id="p210">
<path d="M1107.9,512.7 L1134.8,482 M1116.2,519.1 L1141.8,489.7" fill="none" stroke="#000" stroke-width="1.1"/>
<path d="M1134.8,482.0C1135.3,482.1 1137.0,482.0 1138.0,482.3C1139.0,482.6 1139.9,483.2 1140.5,484.0C1141.1,484.8 1141.6,486.1 1141.8,487.0C1142.0,487.9 1141.8,489.2 1141.8,489.7" fill="none" stroke="#000" stroke-width="1.1"/>
<path d="M1129.0,487.8C1129.9,488.3 1132.7,490.3 1134.3,491.1C1135.9,491.8 1137.9,492.1 1138.6,492.3" fill="none" stroke="#000" stroke-width="1" stroke-dasharray="1.5 1"/>
<path d="M1124.5,493.6C1125.3,494.1 1128.0,496.1 1129.5,496.8C1131.0,497.5 1132.8,497.8 1133.5,498.0" fill="none" stroke="#000" stroke-width="1" stroke-dasharray="1.5 1"/>
<path d="M1120.0,498.0C1120.8,498.5 1123.5,500.5 1125.0,501.2C1126.5,502.0 1128.3,502.3 1129.0,502.5" fill="none" stroke="#000" stroke-width="1" stroke-dasharray="1.5 1"/>
<ellipse cx="1106.3" cy="522.3" rx="10.4" ry="10.2" fill="#fff" stroke="#000" stroke-width="2" stroke-dasharray="4 1"/>
<ellipse cx="1104.7" cy="524.3" rx="7.4" ry="7.2" fill="none" stroke="#000" stroke-width="1.6"/>
<path d="M1101.5,524.3 L1108,524.3 M1104.7,521 L1104.7,527.6 M1102.4,522 L1107,526.6 M1107,522 L1102.4,526.6" fill="none" stroke="#000" stroke-width="0.9"/>
</g>
<g id="p510">
<path d="M303.5,606.9C301.2,606.6 292.1,606.9 289.8,604.9C287.5,602.9 289.3,598.1 289.5,595.0C289.7,591.9 289.1,589.5 290.8,586.3C292.6,583.1 295.9,579.9 300.0,576.0C304.1,572.1 311.8,564.2 315.3,562.7C318.8,561.2 318.9,564.4 321.0,567.0C323.1,569.6 326.8,576.5 328.0,578.4" fill="none" stroke="#000" stroke-width="1.1"/>
<path d="M291.0,586.0C292.5,585.7 296.8,584.7 300.0,584.0C303.2,583.3 307.0,583.3 310.0,582.0C313.0,580.7 316.7,577.0 318.0,576.0" fill="none" stroke="#000" stroke-width="1.1"/>
<path d="M296.0,578.0C297.7,576.8 303.2,573.0 306.0,571.0C308.8,569.0 311.2,567.2 313.0,566.0C314.8,564.8 316.3,564.3 317.0,564.0" fill="none" stroke="#000" stroke-width="1.1"/>
<path d="M304.0,606.0C304.1,603.7 303.2,595.7 304.5,592.0C305.8,588.3 309.1,586.5 312.0,584.0C314.9,581.5 320.3,578.2 322.0,577.0" fill="none" stroke="#000" stroke-width="1" stroke-dasharray="2 1"/>
<path d="M317.0,567.0C317.5,568.2 318.5,572.2 320.0,574.0C321.5,575.8 325.0,577.3 326.0,578.0" fill="none" stroke="#000" stroke-width="1.1"/>
<path d="M318.5,605.0C318.8,603.0 318.6,596.8 320.0,593.0C321.4,589.2 325.8,583.8 327.0,582.0" fill="none" stroke="#000" stroke-width="1" stroke-dasharray="2 1.5"/>
<path d="M328.0,578.4C332.4,579.5 344.2,582.2 354.5,585.3C364.8,588.4 375.6,592.9 389.8,597.0C404.1,601.1 424.3,605.6 440.0,610.0C455.7,614.4 474.9,620.9 483.9,623.5C492.8,626.1 492.1,625.2 493.7,625.5" fill="none" stroke="#000" stroke-width="1.2" stroke-dasharray="3 1.2"/>
<path d="M354.5,585.3C360.4,587.5 375.6,593.9 389.8,598.5C404.1,603.1 424.3,608.4 440.0,613.0C455.7,617.6 476.6,623.8 483.9,626.0" fill="none" stroke="#000" stroke-width="1.1"/>
<path d="M304.0,598.0C306.2,597.2 308.4,593.0 317.3,593.1C326.2,593.2 345.2,596.4 357.6,598.9C370.1,601.4 378.3,603.3 392.0,608.0C405.7,612.7 424.4,620.7 440.0,627.0C455.6,633.3 478.2,642.6 485.8,645.7" fill="none" stroke="#000" stroke-width="1.1"/>
<path d="M291.8,605.9 L293.7,605.9 L296.0,605.9 L298.6,605.8 L301.5,605.8 L304.8,605.7 L308.5,605.8 L312.6,606.0 L317.0,606.4 L321.8,607.0 L327.0,607.8 L332.9,608.9 L339.5,610.3 L346.8,611.9 L354.6,613.7 L362.6,615.6 L370.6,617.6 L378.6,619.6 L386.3,621.7 L393.5,623.6 L400.0,625.5 L406.0,627.3 L411.5,629.2 L416.8,631.0 L421.9,632.9 L426.7,634.8 L431.4,636.7 L436.0,638.5 L440.6,640.4 L445.3,642.2 L450.0,644.0 L454.9,645.8 L460.1,647.7 L465.3,649.5 L470.5,651.4 L475.6,653.2 L480.5,655.0 L485.1,656.7 L489.2,658.3 L492.8,659.7 L495.7,661.0 L497.9,662.1 L499.5,663.1 L500.6,664.0 L501.2,664.7 L501.5,665.4 L501.6,665.9 L501.5,666.4 L501.4,666.9 L501.4,667.3 L501.6,667.6 L498.0,665.0 L497.0,664.6 L495.7,664.1 L494.3,663.5 L492.7,662.9 L490.9,662.2 L488.9,661.4 L486.8,660.6 L484.7,659.8 L482.4,658.9 L480.0,658.0 L477.6,657.1 L475.1,656.2 L472.5,655.2 L469.7,654.2 L466.9,653.2 L463.9,652.1 L460.7,650.9 L457.4,649.7 L453.8,648.4 L450.0,647.0 L446.0,645.5 L441.9,643.9 L437.6,642.1 L433.1,640.4 L428.5,638.5 L423.6,636.6 L418.5,634.7 L413.1,632.8 L407.5,630.9 L401.6,629.0 L395.1,627.1 L387.9,625.0 L380.1,622.8 L372.1,620.6 L363.9,618.5 L355.8,616.4 L348.1,614.4 L340.9,612.7 L334.5,611.2 L329.0,610.0 L324.4,609.1 L320.4,608.6 L317.0,608.2 L314.0,608.1 L311.5,608.1 L309.3,608.2 L307.4,608.3 L305.8,608.4 L304.3,608.5 L303.0,608.5Z" fill="#999" stroke="#000" stroke-width="0.9"/>
<path d="M389.8,598.0 L386.0,606.9" fill="none" stroke="#000" stroke-width="1.1"/>
<path d="M398.0,601.0 L432.9,608.5 L428.0,614.7 L394.0,607.0Z" fill="none" stroke="#000" stroke-width="1.1"/>
<path d="M405.5,603.0 L397.6,624.5" fill="none" stroke="#000" stroke-width="1.1"/>
<path d="M416.0,605.0 L411.0,611.0" fill="none" stroke="#000" stroke-width="1.1"/>
<path d="M483.9,624.5C484.4,626.2 487.3,630.1 487.0,635.0C486.7,639.9 482.8,650.8 482.0,653.9" fill="none" stroke="#000" stroke-width="1.1"/>
<path d="M493.7,626.5C494.1,628.8 495.1,635.2 496.0,640.0C496.9,644.8 498.2,650.4 499.0,655.0C499.8,659.6 500.3,665.5 500.6,667.6" fill="none" stroke="#000" stroke-width="1.1"/>
<path d="M495.0,631.0C496.2,630.6 499.5,629.4 502.0,628.4C504.5,627.4 507.1,626.0 510.0,625.0C512.9,624.0 517.2,620.5 519.2,622.5C521.2,624.5 523.1,635.0 522.2,637.3C521.3,639.5 516.8,636.2 514.0,636.0C511.2,635.8 507.8,634.8 505.5,636.3C503.2,637.8 500.9,643.5 500.0,645.0" fill="none" stroke="#000" stroke-width="1.1"/>
<path d="M500.0,634.0C501.3,633.3 505.5,631.2 508.0,630.0C510.5,628.8 513.8,627.5 515.0,627.0" fill="none" stroke="#000" stroke-width="1.6" stroke-dasharray="2 1"/>
<path d="M487.0,646.0C487.8,647.0 490.8,649.7 492.0,652.0C493.2,654.3 493.7,658.7 494.0,660.0" fill="none" stroke="#000" stroke-width="1.1"/>
</g>
<g id="p580c">
<path d="M285.0,652.0 L292.0,646.5 L301.0,648.0 L304.7,656.0 L302.0,664.0 L294.0,667.7 L286.0,664.0 L283.9,658.0Z" fill="#fff" stroke="#000" stroke-width="1.3"/>
<ellipse cx="292.2" cy="658.7" rx="6.5" ry="6.0" fill="none" stroke="#000" stroke-width="1.2"/>
<ellipse cx="292.2" cy="658.7" rx="4.2" ry="4.0" fill="none" stroke="#000" stroke-width="1.1"/>
<path d="M298.0,648.0L304.0,653.0" fill="none" stroke="#000" stroke-width="1.1"/>
</g>
<g id="p500">
<path d="M274.6,678.3 L274.8,678.5 L275.1,678.8 L275.4,679.0 L275.7,679.4 L276.1,679.7 L276.6,680.1 L277.1,680.6 L277.8,681.1 L278.7,681.6 L279.7,682.2 L280.9,682.9 L282.3,683.6 L283.8,684.5 L285.4,685.4 L287.1,686.3 L288.9,687.2 L290.8,688.1 L292.8,689.0 L294.8,689.9 L296.8,690.7 L298.7,691.4 L300.4,691.9 L302.0,692.4 L303.6,692.9 L305.3,693.4 L307.3,693.9 L309.7,694.5 L312.5,695.3 L315.9,696.3 L320.0,697.5 L324.9,699.0 L330.7,700.8 L337.0,702.8 L343.9,704.9 L351.1,707.2 L358.4,709.5 L365.7,711.7 L372.9,714.0 L379.7,716.1 L386.0,718.0 L392.0,719.8 L397.9,721.6 L403.7,723.4 L409.4,725.1 L414.9,726.8 L420.3,728.4 L425.6,729.9 L430.6,731.4 L435.4,732.7 L440.0,734.0 L444.4,735.2 L448.5,736.2 L452.5,737.2 L456.2,738.2 L459.8,739.0 L463.2,739.8 L466.4,740.4 L469.5,741.0 L472.3,741.6 L475.0,742.0 L477.5,742.3 L479.8,742.5 L482.0,742.6 L483.9,742.6 L485.7,742.5 L487.3,742.4 L488.7,742.3 L490.0,742.1 L491.1,742.0 L492.0,742.0 L490.0,747.0 L489.2,747.0 L488.3,747.0 L487.2,747.0 L486.0,747.0 L484.7,747.0 L483.2,747.0 L481.4,746.9 L479.5,746.7 L477.4,746.4 L475.0,746.0 L472.4,745.5 L469.6,744.9 L466.6,744.3 L463.4,743.5 L459.9,742.7 L456.3,741.8 L452.5,740.9 L448.5,739.9 L444.4,738.8 L440.0,737.6 L435.4,736.3 L430.6,735.0 L425.6,733.6 L420.3,732.1 L414.9,730.5 L409.4,728.9 L403.7,727.2 L397.9,725.5 L392.0,723.7 L386.0,722.0 L379.7,720.2 L372.9,718.2 L365.7,716.1 L358.4,714.0 L351.1,711.9 L343.9,709.8 L337.0,707.8 L330.7,705.9 L324.9,704.2 L320.0,702.7 L315.9,701.4 L312.6,700.3 L309.8,699.3 L307.4,698.5 L305.5,697.7 L303.7,697.0 L302.1,696.3 L300.5,695.6 L298.7,694.9 L296.8,694.1 L294.7,693.2 L292.5,692.3 L290.2,691.3 L288.1,690.3 L286.0,689.3 L284.0,688.4 L282.1,687.5 L280.5,686.8 L279.1,686.1 L278.0,685.6Z" fill="#8a8a8a" stroke="#000" stroke-width="0.9"/>
<path d="M271.2,689.9C272.6,691.3 271.6,695.0 279.7,698.4C287.8,701.8 302.2,705.2 320.0,710.3C337.8,715.4 366.2,723.8 386.2,729.1C406.2,734.5 426.0,738.9 440.0,742.4C454.0,745.9 465.0,748.7 470.0,750.0" fill="none" stroke="#000" stroke-width="1.1"/>
<path d="M278.0,705.2C285.0,707.3 302.0,712.9 320.0,718.0C338.0,723.1 366.2,730.8 386.2,735.7C406.2,740.6 426.7,744.0 440.0,747.2C453.3,750.4 461.7,753.7 466.0,755.0" fill="none" stroke="#000" stroke-width="1.1"/>
<path d="M300.0,708.5C314.3,713.8 362.7,732.5 386.0,740.0C409.3,747.5 427.2,749.7 440.0,753.2C452.8,756.7 459.2,759.7 463.0,761.0" fill="none" stroke="#000" stroke-width="1.1"/>
<path d="M272.9,716.3 L273.6,716.2 L274.5,716.0 L275.5,715.7 L276.7,715.5 L277.9,715.2 L279.3,714.9 L280.7,714.7 L282.1,714.6 L283.5,714.5 L284.8,714.6 L286.1,714.8 L287.4,715.1 L288.8,715.4 L290.1,715.8 L291.5,716.3 L292.9,716.8 L294.4,717.3 L296.0,717.8 L297.6,718.4 L299.3,718.9 L300.9,719.4 L302.4,719.8 L303.8,720.2 L305.2,720.6 L306.8,721.0 L308.6,721.5 L310.7,722.1 L313.2,722.9 L316.3,723.7 L320.0,724.8 L324.4,726.1 L329.5,727.6 L335.1,729.2 L341.2,731.0 L347.5,732.8 L354.1,734.7 L360.8,736.7 L367.4,738.5 L373.8,740.3 L380.0,742.0 L386.2,743.6 L392.6,745.3 L399.2,746.9 L405.8,748.5 L412.4,750.1 L418.7,751.7 L424.8,753.1 L430.4,754.5 L435.5,755.8 L440.0,756.9 L443.8,757.9 L447.2,758.8 L450.1,759.6 L452.6,760.3 L454.8,760.9 L456.6,761.4 L458.2,761.9 L459.6,762.3 L460.9,762.7 L462.0,763.0 L460.0,767.0 L459.0,766.6 L457.9,766.1 L456.7,765.6 L455.4,765.0 L453.8,764.3 L451.8,763.6 L449.6,762.8 L446.9,761.9 L443.7,760.9 L440.0,759.9 L435.6,758.8 L430.6,757.6 L424.9,756.3 L418.9,755.0 L412.5,753.6 L405.9,752.2 L399.3,750.7 L392.6,749.1 L386.2,747.6 L380.0,746.0 L373.8,744.3 L367.4,742.5 L360.8,740.6 L354.1,738.7 L347.5,736.7 L341.2,734.8 L335.1,732.9 L329.5,731.2 L324.4,729.6 L320.0,728.3 L316.3,727.2 L313.2,726.2 L310.7,725.4 L308.6,724.6 L306.8,724.0 L305.2,723.5 L303.8,723.0 L302.4,722.5 L300.9,722.0 L299.3,721.5 L297.5,721.0 L295.8,720.5 L294.0,720.1 L292.4,719.7 L290.8,719.3 L289.3,719.0 L287.9,718.7 L286.7,718.4 L285.6,718.2 L284.8,718.0Z" fill="#8a8a8a" stroke="#000" stroke-width="0.9"/>
<path d="M300.2,721.0C304.9,722.5 315.0,725.8 328.3,730.3C341.6,734.8 361.4,742.6 380.0,748.0C398.6,753.4 426.8,759.6 440.0,762.9C453.2,766.2 456.1,767.1 459.3,768.0" fill="none" stroke="#000" stroke-width="1.1"/>
<path d="M276.3,704.4 L276.8,712.0" fill="none" stroke="#000" stroke-width="1.1"/>
<path d="M462.0,757.0 L474.1,737.1 L487.8,740.5 L499.7,745.6 L508.3,755.8 L510.8,767.8 L506.6,776.3 L501.4,779.7 L490.0,785.0 L470.0,778.0Z" fill="#fff" stroke="none"/>
<path d="M474.1,737.1C476.4,737.7 483.5,739.1 487.8,740.5C492.1,741.9 496.3,743.1 499.7,745.6C503.1,748.1 506.4,752.1 508.3,755.8C510.2,759.5 511.1,764.4 510.8,767.8C510.5,771.2 508.2,774.3 506.6,776.3C505.0,778.3 502.3,779.1 501.4,779.7" fill="none" stroke="#000" stroke-width="1.1"/>
<path d="M480.0,741.0C482.5,741.7 490.8,742.5 495.0,745.0C499.2,747.5 502.9,752.2 505.0,756.0C507.1,759.8 507.8,764.5 507.5,768.0C507.2,771.5 503.8,775.5 503.0,777.0" fill="none" stroke="#000" stroke-width="1.1"/>
<path d="M462.0,757.0C463.3,755.0 467.7,747.7 470.0,745.0C472.3,742.3 475.0,741.7 476.0,741.0" fill="none" stroke="#000" stroke-width="1.1"/>
<ellipse cx="481.0" cy="769.0" rx="18.5" ry="21.5" transform="rotate(-35 481 769)" fill="#fff" stroke="#000" stroke-width="1.1"/>
<ellipse cx="481.0" cy="771.0" rx="16.5" ry="18.5" transform="rotate(-35 481 771)" fill="none" stroke="#000" stroke-width="1.1"/>
<ellipse cx="481.0" cy="772.9" rx="14.0" ry="15.2" transform="rotate(-35 481 772.9)" fill="none" stroke="#000" stroke-width="1.8" stroke-dasharray="3 1"/>
<path d="M486.0,775.1 L481.0,781.0 L473.5,779.7 L470.8,772.5 L475.8,766.6 L483.3,767.9Z" fill="none" stroke="#000" stroke-width="1.3"/>
<path d="M482.8,774.6 L479.9,778.0 L475.5,777.2 L474.0,773.0 L476.9,769.6 L481.3,770.4Z" fill="none" stroke="#000" stroke-width="1"/>
<path d="M231.1,688.2C231.9,686.8 233.2,682.4 236.0,680.0C238.8,677.6 243.8,674.8 248.2,673.7C252.6,672.7 258.3,672.9 262.7,673.7C267.1,674.5 272.6,677.5 274.6,678.3" fill="none" stroke="#000" stroke-width="1.1"/>
<path d="M231.1,688.2C231.0,689.9 230.0,695.1 230.7,698.4C231.4,701.7 232.9,704.5 235.4,707.8C237.9,711.1 242.1,715.4 245.6,718.0C249.1,720.6 253.4,722.7 256.7,723.6C260.0,724.5 262.9,724.2 265.2,723.6C267.5,723.0 268.8,721.8 270.3,719.7C271.8,717.6 273.4,712.5 274.0,711.0" fill="#fff" stroke="#000" stroke-width="1.1"/>
<path d="M233.7,687.3C235.7,685.6 240.8,678.9 245.6,677.1C250.4,675.3 259.0,676.2 262.7,676.6C266.4,677.0 265.8,677.7 267.8,679.6C269.9,681.5 273.8,686.6 275.0,688.0" fill="none" stroke="#000" stroke-width="1.1"/>
<ellipse cx="252.4" cy="704.0" rx="18.0" ry="19.6" transform="rotate(-40 252.4 704)" fill="#fff" stroke="#000" stroke-width="1.1"/>
<ellipse cx="251.0" cy="704.0" rx="16.0" ry="17.5" transform="rotate(-40 251 704)" fill="none" stroke="#000" stroke-width="1.1"/>
<ellipse cx="250.7" cy="703.5" rx="14.0" ry="15.0" transform="rotate(-40 250.7 703.5)" fill="none" stroke="#000" stroke-width="2.4" stroke-dasharray="6 1.5"/>
<path d="M255.7,704.6 L252.8,712.6 L244.4,714.1 L238.9,707.6 L241.8,699.6 L250.2,698.1Z" fill="#fff" stroke="#000" stroke-width="1.5"/>
<path d="M252.2,705.2 L250.5,709.9 L245.6,710.8 L242.4,707.0 L244.1,702.3 L249.0,701.4Z" fill="none" stroke="#000" stroke-width="1.1"/>
</g>
<g id="p570c">
<path d="M200.5,743.7 L226.3,722 M207,750.8 L232.8,730.2" fill="none" stroke="#000" stroke-width="1.1"/>
<path d="M226.3,722.0C227.2,722.6 230.5,724.3 231.6,725.6C232.7,726.9 232.6,729.0 232.8,729.7" fill="none" stroke="#000" stroke-width="1.1"/>
<path d="M211.6,734.5C212.2,735.4 214.9,738.4 215.5,740.0C216.1,741.6 215.1,743.3 215.0,744.0" fill="none" stroke="#000" stroke-width="1.1"/>
<path d="M217.5,729.5C218.2,730.4 220.9,733.4 221.5,735.0C222.1,736.6 221.1,738.3 221.0,739.0" fill="none" stroke="#000" stroke-width="1.1"/>
<path d="M222.5,725.5C223.2,726.4 225.8,729.5 226.5,731.0C227.2,732.5 226.5,733.9 226.5,734.5" fill="none" stroke="#000" stroke-width="1.1"/>
<path d="M186.2,750.2C186.6,748.5 187.6,746.1 188.8,744.9C190.0,743.7 191.7,743.3 193.5,743.2C195.3,743.1 198.0,743.3 199.9,744.3C201.8,745.3 204.2,746.6 205.2,749.0C206.2,751.4 206.3,756.4 205.8,758.4C205.3,760.4 203.5,760.4 202.3,761.3C201.1,762.2 200.3,763.3 198.8,763.7C197.3,764.1 195.1,764.3 193.5,763.7C191.9,763.1 190.6,761.7 189.4,760.2C188.2,758.7 187.0,756.6 186.5,754.9C186.0,753.2 185.8,751.9 186.2,750.2Z" fill="#fff" stroke="#000" stroke-width="1.3"/>
<path d="M190.6,745.5 L197.6,749.0 L201.1,756.1 L199.4,761.9" fill="none" stroke="#000" stroke-width="1.1"/>
<path d="M197.6,749.0 L199.9,744.3" fill="none" stroke="#000" stroke-width="1.1"/>
<path d="M201.1,756.1 L205.8,755.0" fill="none" stroke="#000" stroke-width="1.1"/>
</g>
<g id="p520">
<path d="M550.1,691.6 L509.4,732.3 M558.1,698.8 L517,740.4" fill="none" stroke="#000" stroke-width="1.1"/>
<path d="M509.4,732.3C509.5,733.1 509.2,735.7 509.8,737.0C510.4,738.3 511.8,739.4 513.0,740.0C514.2,740.6 516.3,740.3 517.0,740.4" fill="none" stroke="#000" stroke-width="1.1"/>
<path d="M528.9,712.8C529.8,713.3 533.0,714.8 534.3,716.1C535.6,717.4 536.3,719.7 536.7,720.4" fill="none" stroke="#000" stroke-width="1.1"/>
<path d="M524.1,717.6C524.9,718.2 528.1,719.7 529.4,721.0C530.7,722.3 531.4,724.7 531.8,725.4" fill="none" stroke="#000" stroke-width="1.1"/>
<path d="M519.2,722.5C520.1,723.1 523.2,724.7 524.5,726.0C525.8,727.3 526.5,729.7 526.9,730.4" fill="none" stroke="#000" stroke-width="1.1"/>
<path d="M549.1,684.7C549.5,683.2 549.9,682.7 551.2,682.1C552.5,681.5 555.6,681.4 557.0,681.1C558.4,680.8 558.7,680.2 559.6,680.2C560.5,680.2 561.1,680.2 562.5,681.1C563.9,682.0 566.8,684.5 567.9,685.8C569.0,687.1 568.9,687.6 569.0,688.7C569.1,689.8 568.5,691.0 568.3,692.3C568.0,693.6 568.0,695.4 567.5,696.6C567.0,697.8 566.5,698.9 565.4,699.5C564.3,700.1 562.2,700.4 561.0,700.3C559.8,700.2 560.1,700.4 558.1,698.8C556.1,697.2 550.6,693.1 549.1,690.8C547.6,688.4 548.8,686.2 549.1,684.7Z" fill="#fff" stroke="#000" stroke-width="1.3"/>
<path d="M551.6,682.9C552.7,683.1 556.1,683.2 558.1,684.0C560.1,684.8 562.0,686.0 563.6,687.6C565.2,689.2 566.9,692.7 567.5,693.7" fill="none" stroke="#000" stroke-width="2"/>
<path d="M552.3,688.7C552.5,688.5 552.9,687.4 553.8,687.2C554.6,687.0 556.2,686.9 557.4,687.6C558.6,688.3 560.1,689.9 561.0,691.2C561.9,692.5 562.6,694.2 562.5,695.2C562.4,696.2 560.7,696.7 560.3,697.0" fill="none" stroke="#000" stroke-width="1.5"/>
</g>
<g id="p530">
<path d="M449.8,790.4C450.4,789.6 452.3,789.4 453.3,789.4C454.3,789.4 454.1,789.6 456.0,790.4C457.9,791.1 463.0,792.4 465.0,793.9C467.0,795.4 466.3,797.1 467.8,799.4C469.3,801.7 473.2,805.3 474.1,807.7C475.0,810.1 474.4,812.2 473.4,814.0C472.3,815.8 469.8,818.3 467.8,818.5C465.8,818.7 463.9,816.0 461.6,815.3C459.3,814.5 456.1,814.8 454.0,814.0C451.9,813.2 450.7,812.7 449.1,810.5C447.5,808.3 444.4,802.9 444.3,800.8C444.2,798.7 447.5,799.1 448.4,798.0C449.3,796.9 449.6,795.2 449.8,793.9C450.0,792.6 449.2,791.1 449.8,790.4Z" fill="none" stroke="#000" stroke-width="1.2"/>
<ellipse cx="458.8" cy="805.0" rx="4.6" ry="3.4" transform="rotate(50 458.8 805)" fill="none" stroke="#000" stroke-width="1.5"/>
</g>
<g id="p540">
<ellipse cx="438.9" cy="829.2" rx="11.6" ry="11.1" fill="#fff" stroke="#000" stroke-width="1.5" stroke-dasharray="6 1.2"/>
<path d="M432.5,820.2 L441.0,819.0 L449.8,827.2 L447.7,835.4 L440.1,838.9 L430.4,836.8 L427.6,828.5Z" fill="none" stroke="#000" stroke-width="1"/>
<ellipse cx="433.9" cy="832.7" rx="5.5" ry="5.0" transform="rotate(20 433.9 832.7)" fill="none" stroke="#000" stroke-width="1.5"/>
<path d="M441.0,819.0 L443.0,829.0 L447.7,835.4" fill="none" stroke="#000" stroke-width="1.1"/>
</g>
<g id="knuckle">
<path d="M763.0,554.1C765.8,551.9 774.2,544.4 780.0,541.0C785.8,537.6 791.3,534.1 798.0,533.7C804.7,533.3 815.7,537.2 820.2,538.8C824.8,540.3 821.2,541.0 825.3,543.0C829.4,545.0 837.5,548.9 845.0,551.0C852.5,553.1 863.3,555.5 870.0,555.8C876.7,556.1 882.6,553.1 885.1,552.6" fill="none" stroke="#555" stroke-width="0.9"/>
<path d="M764.7,594.2C767.1,590.1 773.7,576.5 779.2,569.5C784.8,562.5 791.2,556.4 798.0,552.4C804.8,548.4 816.5,546.7 820.2,545.6" fill="none" stroke="#555" stroke-width="0.9"/>
<path d="M711.8,595.9C713.4,592.6 717.4,581.3 721.2,576.3C725.0,571.3 729.7,568.4 734.8,566.1C739.9,563.8 749.0,563.3 751.9,562.7" fill="none" stroke="#555" stroke-width="0.9"/>
<path d="M706.7,595.9 L729.7,609.6 L726.3,612.2 L711.0,642.9" fill="none" stroke="#555" stroke-width="0.9"/>
<path d="M764.7,617.3C770.2,617.7 788.8,619.4 798.0,619.8C807.2,620.2 813.6,619.6 820.0,619.7C826.4,619.8 831.3,620.9 836.3,620.2C841.2,619.5 846.3,616.5 849.7,615.4C853.1,614.3 853.8,613.8 856.5,613.5C859.2,613.2 863.1,612.9 866.0,613.5C868.9,614.1 871.8,615.7 873.7,616.9C875.6,618.1 877.0,620.1 877.6,620.7" fill="none" stroke="#555" stroke-width="0.9"/>
<path d="M749.4,641.2C753.2,640.6 760.6,638.0 772.4,637.7C784.2,637.4 809.4,639.0 820.0,639.4C830.6,639.8 830.4,638.9 836.3,639.9C842.2,640.9 852.3,644.6 855.5,645.6" fill="none" stroke="#555" stroke-width="0.9"/>
<path d="M836.3,639.9 L852.6,649.5" fill="none" stroke="#555" stroke-width="0.9"/>
<ellipse cx="809.9" cy="578.9" rx="5.0" ry="6.5" transform="rotate(-20 809.9 578.9)" fill="none" stroke="#555" stroke-width="0.9"/>
<path d="M809.0,569.0C810.2,569.7 814.3,570.7 816.0,573.0C817.7,575.3 819.2,580.2 819.0,583.0C818.8,585.8 815.7,588.8 815.0,590.0" fill="none" stroke="#555" stroke-width="0.9"/>
<path d="M810.0,566.0C811.5,566.8 816.8,568.3 819.0,571.0C821.2,573.7 822.3,580.2 823.0,582.0" fill="none" stroke="#555" stroke-width="0.9"/>
<path d="M809.0,560.1C811.7,559.2 820.3,554.6 825.3,555.0C830.3,555.4 833.3,557.4 839.0,562.7C844.7,568.0 856.0,582.6 859.4,586.6" fill="none" stroke="#555" stroke-width="0.9"/>
<path d="M803.1,554.1 L816.8,567.8" fill="none" stroke="#555" stroke-width="0.9"/>
<path d="M794.6,598.5C797.4,597.1 806.2,590.6 811.6,590.0C817.0,589.4 820.7,591.1 827.0,595.1C833.3,599.1 845.5,610.8 849.2,613.9" fill="none" stroke="#555" stroke-width="0.9"/>
<path d="M816.8,591.7C816.5,593.9 815.6,600.5 815.0,605.0C814.4,609.5 813.6,616.7 813.3,619.0" fill="none" stroke="#555" stroke-width="0.9"/>
<path d="M823.6,593.4C823.5,595.7 823.4,602.5 823.0,607.0C822.6,611.5 821.3,618.4 821.0,620.7" fill="none" stroke="#555" stroke-width="0.9"/>
<path d="M784.3,639.5C784.2,641.2 783.4,647.2 784.0,650.0C784.6,652.8 785.4,654.6 788.0,656.5C790.6,658.4 796.6,662.7 799.7,661.6C802.8,660.5 805.4,653.7 806.5,650.0C807.6,646.3 806.5,641.2 806.5,639.5" fill="none" stroke="#555" stroke-width="0.9"/>
<path d="M793.0,639.0C793.0,641.2 792.2,649.2 793.0,652.0C793.8,654.8 797.2,655.3 798.0,656.0" fill="none" stroke="#555" stroke-width="0.9"/>
<path d="M786.0,619.0 L803.1,583.1" fill="none" stroke="#555" stroke-width="0.9"/>
<path d="M762.2,680.4 L772.4,639.5" fill="none" stroke="#555" stroke-width="0.9"/>
<path d="M693.9,660.0C693.3,662.9 689.9,672.8 690.5,677.1C691.1,681.4 693.9,682.8 697.3,685.6C700.7,688.4 707.6,692.1 711.0,694.1C714.4,696.1 716.7,696.9 717.8,697.5" fill="none" stroke="#555" stroke-width="0.9"/>
<path d="M690.5,678.7C692.8,674.2 700.4,657.9 704.1,651.4C707.8,644.9 711.3,641.5 712.7,639.5" fill="none" stroke="#555" stroke-width="0.9"/>
<path d="M714.4,660.0 L736.6,664.2" fill="none" stroke="#555" stroke-width="0.9"/>
<ellipse cx="733.1" cy="639.5" rx="5.0" ry="4.5" fill="none" stroke="#555" stroke-width="0.9"/>
<path d="M728.0,645.0C729.3,645.0 734.0,646.2 736.0,645.0C738.0,643.8 739.3,639.2 740.0,638.0" fill="none" stroke="#555" stroke-width="0.9"/>
<path d="M728.0,623.0C729.2,622.2 732.2,618.3 735.0,618.0C737.8,617.7 743.0,619.2 745.0,621.0C747.0,622.8 746.7,627.7 747.0,629.0" fill="none" stroke="#555" stroke-width="0.9"/>
<path d="M730.0,619.0C730.3,618.2 730.5,615.2 732.0,614.0C733.5,612.8 737.8,612.3 739.0,612.0" fill="none" stroke="#555" stroke-width="0.9"/>
<path d="M746.8,629.2C747.1,633.8 747.1,649.1 748.5,656.5C749.9,663.9 754.0,668.0 755.3,673.6C756.5,679.2 755.9,687.3 756.0,690.0" fill="none" stroke="#555" stroke-width="0.9"/>
<path d="M711.0,681.3L721.2,685.6" fill="none" stroke="#555" stroke-width="0.9"/>
<path d="M733.1,699.2L748.5,695.8" fill="none" stroke="#555" stroke-width="0.9"/>
<path d="M710.1,695.0 L681.9,724.8 L679.4,731.7 L681.1,738.5" fill="none" stroke="#555" stroke-width="0.9"/>
<path d="M730.6,699.2 L703.3,725.7" fill="none" stroke="#555" stroke-width="0.9"/>
<path d="M738.3,735.1 L750.2,723.1 L751.9,718.0 L751.1,712.9 L755.3,706.9 L816.8,735.9" fill="none" stroke="#555" stroke-width="0.9"/>
<path d="M741.7,733.4 L765.6,741.1 L833.8,753.0 L839.8,749.6 L840.6,741.9" fill="none" stroke="#555" stroke-width="0.9"/>
<path d="M771.5,697.5 L827.0,724.0" fill="none" stroke="#555" stroke-width="0.9"/>
<path d="M818.5,728.3C818.1,729.8 815.4,734.2 816.0,737.0C816.6,739.8 819.7,743.7 822.0,745.0C824.3,746.3 827.8,745.5 830.0,745.0C832.2,744.5 834.6,742.5 835.5,742.0" fill="none" stroke="#555" stroke-width="0.9"/>
<path d="M818.5,728.3C819.9,727.7 824.2,724.5 827.0,724.8C829.8,725.1 833.2,727.1 835.5,730.0C837.8,732.9 839.8,739.9 840.6,741.9" fill="none" stroke="#555" stroke-width="0.9"/>
<path d="M827.8,724.0C828.8,718.2 831.7,697.7 833.8,689.0C835.9,680.3 838.6,676.5 840.6,672.0C842.6,667.5 844.9,663.4 845.8,661.7" fill="none" stroke="#555" stroke-width="0.9"/>
<path d="M821.9,660.0C822.2,662.6 821.9,670.6 823.6,675.4C825.3,680.2 830.7,686.7 832.1,689.0" fill="none" stroke="#555" stroke-width="0.9"/>
<path d="M822.4,658.1 L823.8,680.0" fill="none" stroke="#555" stroke-width="0.9"/>
<path d="M818.0,670.5 L822.8,670.5" fill="none" stroke="#555" stroke-width="0.9"/>
<path d="M806.5,660.0C807.9,661.0 812.4,664.9 815.0,665.9C817.6,666.9 820.8,665.9 821.9,665.9" fill="none" stroke="#555" stroke-width="0.9"/>
<path d="M719.5,756.4 L839.0,777.7" fill="none" stroke="#555" stroke-width="0.9"/>
<path d="M689.6,757.3C689.9,758.1 688.6,760.8 691.3,762.4C694.0,764.0 702.2,766.4 705.8,766.7C709.4,767.0 710.4,765.7 712.7,764.1C715.0,762.5 718.4,758.4 719.5,757.3" fill="none" stroke="#555" stroke-width="0.9"/>
<path d="M699.0,757.3 L705.0,762.4 L711.8,757.3" fill="none" stroke="#555" stroke-width="0.9"/>
<path d="M833.8,764.1C836.1,768.4 840.4,782.6 847.5,789.7C854.6,796.8 866.9,802.6 876.2,806.8C885.5,811.0 892.8,815.0 903.4,815.0C914.0,815.0 927.6,811.5 939.7,806.8C951.8,802.1 964.4,798.1 975.9,786.9C987.4,775.7 1003.1,747.6 1008.5,739.7" fill="none" stroke="#555" stroke-width="0.9"/>
<path d="M881.7,776.0C886.8,778.9 901.3,791.4 912.5,793.2C923.7,795.0 936.0,792.5 948.7,786.9C961.4,781.3 978.8,769.4 988.6,759.7C998.4,750.0 1004.4,734.0 1007.6,728.9" fill="none" stroke="#555" stroke-width="0.9"/>
<path d="M844.0,664.8 L855.5,645.6" fill="none" stroke="#555" stroke-width="0.9"/>
<path d="M858.8,628.4C858.0,629.4 854.9,632.2 854.0,634.1C853.1,636.0 853.4,638.1 853.6,639.9C853.9,641.7 855.2,643.9 855.5,644.7" fill="none" stroke="#555" stroke-width="0.9"/>
<path d="M868.9,630.3C867.8,630.4 864.0,630.0 862.2,630.8C860.4,631.6 858.8,633.4 857.9,635.1C857.0,636.8 856.8,639.9 857.0,640.8C857.2,641.7 858.9,640.5 859.3,640.4" fill="none" stroke="#555" stroke-width="0.9"/>
<path d="M868.9,630.3 L877.6,620.7 L899.6,605.3" fill="none" stroke="#555" stroke-width="0.9"/>
<path d="M899.6,605.3C903.0,603.6 912.0,597.4 920.0,595.0C928.0,592.6 936.8,590.1 947.5,591.0C958.2,591.9 973.1,593.9 984.0,600.6C994.9,607.3 1004.8,619.8 1012.8,631.3C1020.8,642.8 1027.5,658.2 1032.0,669.7C1036.5,681.2 1039.0,692.5 1039.7,700.0C1040.4,707.5 1039.1,711.5 1036.0,715.0C1032.9,718.5 1024.9,720.4 1021.2,720.7C1017.5,721.1 1015.2,717.7 1014.0,717.1" fill="none" stroke="#555" stroke-width="0.9"/>
<path d="M1032.0,718.0C1031.1,719.5 1029.7,723.4 1026.7,727.0C1023.7,730.6 1017.3,737.9 1014.0,739.7C1010.7,741.5 1007.9,738.3 1006.7,738.0" fill="none" stroke="#555" stroke-width="0.9"/>
<path d="M949.1,654.0 L954.6,654.2 L960.0,655.1 L965.3,656.6 L970.4,658.8 L975.3,661.5 L979.9,664.8 L984.2,668.7 L988.0,673.0 L991.4,677.8 L994.4,682.9 L996.8,688.4 L998.7,694.2 L1000.1,700.1 L1000.8,706.2 L1001.0,712.3 L1000.6,718.4 L999.6,724.4 L998.0,730.2 L995.9,735.9 L993.2,741.2 L990.1,746.2 L986.5,750.8 L982.5,755.0 L978.0,758.6 L973.3,761.7 L968.3,764.2 L963.1,766.1 L957.8,767.3 L952.3,767.9 L946.8,767.9 L941.4,767.2 L936.1,765.8 L930.9,763.8" fill="none" stroke="#555" stroke-width="0.9"/>
<path d="M971.0,666.9C972.2,667.1 975.7,667.1 978.0,668.0C980.3,668.9 983.8,671.3 985.0,672.0" fill="none" stroke="#555" stroke-width="0.9"/>
<path d="M964.6,696.1 L966.7,697.0 L968.8,698.1 L970.6,699.4 L972.4,700.9 L974.0,702.6 L975.4,704.5 L976.6,706.5 L977.6,708.6 L978.4,710.9 L979.0,713.2 L979.4,715.6 L979.5,718.0 L979.4,720.4 L979.0,722.8 L978.4,725.1 L977.6,727.4 L976.6,729.5 L975.4,731.5 L974.0,733.4 L972.4,735.1 L970.6,736.6 L968.8,737.9 L966.7,739.0 L964.6,739.9 L962.5,740.5 L960.2,740.9 L958.0,741.0 L955.8,740.9 L953.5,740.5 L951.4,739.9 L949.3,739.0 L947.2,737.9 L945.4,736.6 L943.6,735.1 L942.0,733.4 L940.6,731.5 L939.4,729.5 L938.4,727.4 L937.6,725.1 L937.0,722.8" fill="none" stroke="#555" stroke-width="0.9"/>
<path d="M961.1,710.1 L961.8,710.5 L962.5,710.9 L963.2,711.4 L963.8,712.0 L964.4,712.6 L964.8,713.4 L965.2,714.1 L965.6,714.9 L965.8,715.8 L966.0,716.7 L966.1,717.5 L966.1,718.4 L966.0,719.3 L965.8,720.2 L965.6,721.0 L965.3,721.9 L964.8,722.6 L964.4,723.3 L963.8,724.0 L963.2,724.6 L962.6,725.1 L961.9,725.5 L961.1,725.9 L960.3,726.1 L959.6,726.3 L958.8,726.4 L957.9,726.4 L957.1,726.3 L956.4,726.1 L955.6,725.8 L954.9,725.4 L954.2,724.9 L953.5,724.4 L953.0,723.8 L952.4,723.1 L952.0,722.3 L951.6,721.5" fill="none" stroke="#555" stroke-width="0.9"/>
<path d="M956.1,707.2 L961.3,711.6" fill="none" stroke="#555" stroke-width="0.9"/>
<path d="M948.7,721.3 L953.1,723.6" fill="none" stroke="#555" stroke-width="0.9"/>
<path d="M891.2,733.3C891.8,735.1 893.1,740.6 895.0,744.0C896.9,747.4 899.6,750.9 902.4,753.4C905.2,755.9 908.3,757.5 912.0,759.0C915.7,760.5 922.7,761.8 924.8,762.4" fill="none" stroke="#555" stroke-width="0.9"/>
<path d="M912.8,746.0C913.7,747.3 915.5,751.3 918.0,754.0C920.5,756.7 926.2,761.0 927.8,762.4" fill="none" stroke="#555" stroke-width="0.9"/>
<path d="M978.2,619.8C982.4,621.4 996.3,624.9 1003.2,629.4C1010.1,633.9 1016.8,643.8 1019.5,646.7" fill="none" stroke="#555" stroke-width="0.9"/>
<path d="M977.3,624.6C980.6,627.0 991.3,632.4 997.4,639.0C1003.5,645.6 1011.0,659.8 1013.7,664.0" fill="none" stroke="#555" stroke-width="0.9"/>
<path d="M1014.7,652.5 L1020.0,651.0" fill="none" stroke="#555" stroke-width="0.9"/>
<path d="M1021.4,669.7 L1030.0,668.5" fill="none" stroke="#555" stroke-width="0.9"/>
<path d="M1022.0,702.0C1022.8,702.7 1026.7,704.3 1027.0,706.0C1027.3,707.7 1025.5,710.7 1024.0,712.0C1022.5,713.3 1019.0,713.7 1018.0,714.0" fill="none" stroke="#555" stroke-width="0.9"/>
<path d="M897.6,549.8C902.1,550.1 918.8,550.0 924.5,551.7C930.2,553.5 930.8,558.9 932.1,560.3" fill="none" stroke="#555" stroke-width="0.9"/>
<path d="M932.1,560.3 L934.0,585.3" fill="none" stroke="#555" stroke-width="0.9"/>
<path d="M891.8,566.0C895.3,566.2 907.5,568.4 913.0,567.0C918.5,565.6 922.6,559.0 924.5,557.4" fill="none" stroke="#555" stroke-width="0.9"/>
<path d="M902.4,576.6L930.2,569.9" fill="none" stroke="#555" stroke-width="0.9"/>
<path d="M934.0,585.3C934.5,586.1 936.3,588.5 937.0,590.0C937.7,591.5 937.8,593.3 938.0,594.0" fill="none" stroke="#555" stroke-width="0.9"/>
<path d="M840.0,564.2 L859.2,586.2" fill="none" stroke="#555" stroke-width="0.9"/>
<path d="M875.6,598.2 L892.9,608.7 L899.6,605.3" fill="none" stroke="#555" stroke-width="0.9"/>
<path d="M875.6,598.2 L899.6,604.9" fill="none" stroke="#555" stroke-width="0.9"/>
</g>
<g id="arrows">
<path d="M695.7,343.9 L696.5,346.1 L697.5,348.6 L698.7,351.6 L700.1,354.8 L701.5,358.4 L703.1,362.3 L704.7,366.5 L706.3,370.9 L708.0,375.6 L709.7,380.4 L711.3,385.4 L712.9,390.6 L714.5,396.1 L716.2,402.1 L717.9,408.4 L719.6,415.1 L721.4,422.0 L723.2,429.0 L724.9,436.2 L726.7,443.3 L728.4,450.4 L730.1,457.3 L731.7,464.0 L733.2,470.4 L734.7,476.7 L736.2,482.9 L737.6,489.1 L739.0,495.2 L740.5,501.3 L741.8,507.2 L743.1,513.1 L744.4,518.9 L745.5,524.5 L746.6,529.9 L747.6,535.2 L748.5,540.2 L749.3,545.2 L749.9,550.0 L750.5,554.6 L751.0,559.2 L751.4,563.6 L751.7,567.9 L752.0,572.0 L752.3,576.0 L752.5,579.8 L752.8,583.4 L753.0,586.9 L753.3,590.1 L753.5,593.1 L753.8,596.0 L754.0,598.7 L754.2,601.2 L754.3,603.5 L754.5,605.7 L754.6,607.7 L754.7,609.5 L754.8,611.1 L754.9,612.6 L755.0,613.9 L755.1,615.1 L756.9,614.9 L756.9,613.8 L756.8,612.5 L756.8,611.0 L756.7,609.4 L756.7,607.6 L756.6,605.6 L756.5,603.4 L756.4,601.0 L756.3,598.5 L756.1,595.8 L755.9,592.9 L755.7,589.9 L755.5,586.7 L755.3,583.3 L755.1,579.7 L754.9,575.8 L754.7,571.9 L754.5,567.7 L754.2,563.4 L753.8,558.9 L753.4,554.3 L752.9,549.6 L752.3,544.7 L751.5,539.8 L750.7,534.6 L749.7,529.3 L748.7,523.8 L747.6,518.2 L746.4,512.4 L745.1,506.5 L743.8,500.5 L742.5,494.4 L741.1,488.3 L739.7,482.1 L738.2,475.8 L736.8,469.6 L735.3,463.1 L733.8,456.4 L732.2,449.5 L730.5,442.4 L728.8,435.2 L727.1,428.1 L725.4,421.0 L723.6,414.1 L721.9,407.4 L720.3,401.0 L718.7,395.0 L717.1,389.4 L715.5,384.1 L713.9,379.0 L712.3,374.1 L710.6,369.4 L709.0,364.9 L707.4,360.7 L705.9,356.7 L704.5,353.1 L703.2,349.8 L702.1,346.8 L701.1,344.3 L700.3,342.1Z" fill="#fff" stroke="#000" stroke-width="0.9"/>
<path d="M751.5,616.0 L755.7,625.0 L760.4,616.0Z" fill="#fff" stroke="#000" stroke-width="0.9"/>
<path d="M550.3,497.2 L551.9,498.4 L554.0,499.8 L556.3,501.4 L559.0,503.3 L561.9,505.3 L565.0,507.5 L568.3,509.7 L571.6,512.1 L575.1,514.5 L578.6,516.9 L582.1,519.4 L585.6,521.8 L589.2,524.2 L592.9,526.8 L596.8,529.4 L600.9,532.1 L605.0,534.9 L609.1,537.7 L613.3,540.5 L617.4,543.4 L621.4,546.2 L625.3,549.0 L629.0,551.7 L632.6,554.3 L635.9,556.9 L639.1,559.4 L642.2,561.9 L645.1,564.4 L648.0,566.8 L650.9,569.3 L653.7,571.7 L656.4,574.2 L659.2,576.7 L662.0,579.2 L664.9,581.8 L667.8,584.5 L670.7,587.3 L673.8,590.1 L676.8,593.0 L679.9,596.0 L683.0,599.0 L686.1,602.0 L689.1,605.0 L692.1,607.9 L695.0,610.9 L697.7,613.8 L700.4,616.6 L702.9,619.4 L705.3,622.0 L707.6,624.7 L709.7,627.3 L711.8,629.9 L713.8,632.5 L715.7,635.0 L717.6,637.5 L719.4,640.0 L721.2,642.4 L723.0,644.9 L724.7,647.3 L726.5,649.6 L728.3,652.0 L730.1,654.4 L731.8,656.8 L733.6,659.2 L735.3,661.5 L737.0,663.9 L738.6,666.1 L740.2,668.2 L741.6,670.2 L743.0,672.1 L744.3,673.8 L745.4,675.3 L746.4,676.6 L747.3,677.7 L748.2,678.6 L748.9,679.4 L749.5,680.1 L750.1,680.6 L750.6,681.1 L751.0,681.5 L751.4,681.8 L751.8,682.1 L752.1,682.3 L752.3,682.6 L753.7,681.4 L753.4,681.1 L753.1,680.7 L752.7,680.4 L752.4,680.0 L752.0,679.7 L751.5,679.2 L751.0,678.7 L750.5,678.0 L749.8,677.2 L749.0,676.3 L748.2,675.2 L747.2,673.9 L746.1,672.4 L744.9,670.7 L743.5,668.9 L742.1,666.8 L740.6,664.7 L739.0,662.4 L737.4,660.1 L735.7,657.7 L733.9,655.3 L732.2,652.8 L730.4,650.4 L728.7,648.0 L727.0,645.6 L725.2,643.2 L723.5,640.8 L721.7,638.3 L719.9,635.8 L718.1,633.3 L716.1,630.7 L714.2,628.1 L712.1,625.4 L709.9,622.7 L707.7,620.0 L705.3,617.2 L702.8,614.4 L700.1,611.6 L697.3,608.6 L694.5,605.6 L691.5,602.6 L688.5,599.5 L685.4,596.5 L682.3,593.5 L679.3,590.5 L676.2,587.5 L673.2,584.7 L670.2,581.9 L667.4,579.2 L664.5,576.5 L661.7,573.9 L659.0,571.4 L656.2,568.9 L653.4,566.4 L650.6,563.9 L647.7,561.4 L644.7,558.8 L641.6,556.3 L638.4,553.7 L635.0,551.1 L631.5,548.4 L627.7,545.6 L623.8,542.8 L619.8,539.9 L615.7,537.0 L611.6,534.2 L607.4,531.3 L603.3,528.5 L599.3,525.8 L595.4,523.1 L591.7,520.5 L588.2,518.0 L584.8,515.6 L581.3,513.1 L577.8,510.7 L574.3,508.2 L571.0,505.8 L567.7,503.5 L564.7,501.4 L561.8,499.3 L559.2,497.4 L556.8,495.8 L554.8,494.3 L553.1,493.2Z" fill="#fff" stroke="#000" stroke-width="0.9"/>
<path d="M750.5,682.5 L759.2,692.2 L757.2,679.5Z" fill="#fff" stroke="#000" stroke-width="0.9"/>
<path d="M985.0,464.4 L983.6,465.4 L981.8,466.6 L979.7,467.9 L977.3,469.5 L974.7,471.2 L971.9,473.0 L969.0,474.9 L966.1,476.9 L963.1,479.0 L960.2,481.1 L957.4,483.2 L954.7,485.3 L952.0,487.4 L949.4,489.6 L946.7,491.9 L944.0,494.2 L941.3,496.5 L938.6,499.0 L935.8,501.5 L933.1,504.0 L930.5,506.6 L927.8,509.2 L925.2,511.8 L922.6,514.5 L920.1,517.3 L917.6,520.2 L915.0,523.1 L912.5,526.2 L910.0,529.2 L907.6,532.3 L905.2,535.4 L902.8,538.5 L900.5,541.5 L898.2,544.5 L896.1,547.3 L894.0,550.1 L891.9,552.8 L889.9,555.5 L887.9,558.3 L886.0,561.0 L884.1,563.7 L882.3,566.3 L880.5,568.8 L878.9,571.2 L877.3,573.5 L875.9,575.5 L874.6,577.4 L873.4,579.1 L872.4,580.5 L871.5,581.8 L870.7,582.8 L870.1,583.7 L869.5,584.4 L869.1,585.0 L868.7,585.5 L868.4,586.0 L868.1,586.4 L867.8,586.7 L867.5,587.1 L867.3,587.4 L868.7,588.6 L869.0,588.3 L869.3,588.0 L869.6,587.6 L869.9,587.3 L870.3,586.9 L870.7,586.4 L871.2,585.8 L871.8,585.0 L872.5,584.2 L873.4,583.2 L874.3,581.9 L875.4,580.5 L876.6,578.9 L878.0,577.0 L879.5,574.9 L881.1,572.7 L882.7,570.4 L884.5,567.9 L886.4,565.3 L888.3,562.7 L890.3,560.0 L892.3,557.3 L894.3,554.6 L896.4,551.9 L898.5,549.2 L900.8,546.4 L903.0,543.5 L905.4,540.5 L907.8,537.5 L910.2,534.5 L912.7,531.4 L915.2,528.4 L917.7,525.5 L920.3,522.6 L922.8,519.8 L925.4,517.1 L927.9,514.5 L930.5,511.9 L933.2,509.4 L935.8,506.9 L938.5,504.4 L941.2,502.0 L944.0,499.6 L946.7,497.3 L949.4,495.1 L952.1,492.9 L954.7,490.8 L957.3,488.7 L960.0,486.7 L962.8,484.7 L965.7,482.7 L968.7,480.7 L971.6,478.8 L974.5,476.9 L977.2,475.2 L979.9,473.5 L982.3,472.0 L984.4,470.7 L986.3,469.5 L987.8,468.6Z" fill="#fff" stroke="#000" stroke-width="0.9"/>
<path d="M865.6,585.5 L863.5,596.6 L872.8,590.5Z" fill="#fff" stroke="#000" stroke-width="0.9"/>
<path d="M548.3,785.3 L550.7,784.1 L553.6,782.6 L557.1,780.8 L561.0,778.9 L565.2,776.7 L569.7,774.5 L574.3,772.2 L579.1,770.0 L584.0,767.8 L588.8,765.7 L593.5,763.8 L598.0,762.1 L602.5,760.5 L607.2,759.0 L612.0,757.6 L616.9,756.2 L621.9,754.8 L626.8,753.5 L631.8,752.3 L636.7,751.2 L641.5,750.1 L646.1,749.2 L650.6,748.3 L654.9,747.5 L659.0,746.8 L663.1,746.2 L667.2,745.8 L671.2,745.4 L675.1,745.2 L678.9,745.0 L682.6,744.8 L686.0,744.7 L689.3,744.6 L692.3,744.4 L695.1,744.3 L697.7,744.2 L699.8,744.1 L701.7,744.0 L703.4,743.9 L704.8,743.9 L705.9,743.8 L707.0,743.8 L707.8,743.8 L708.6,743.8 L709.2,743.8 L709.8,743.8 L710.4,743.8 L711.0,743.8 L711.0,742.0 L710.5,742.0 L709.9,741.9 L709.3,741.8 L708.7,741.8 L707.9,741.7 L707.0,741.6 L706.0,741.6 L704.8,741.5 L703.3,741.5 L701.7,741.5 L699.7,741.5 L697.5,741.6 L695.1,741.7 L692.3,741.7 L689.2,741.8 L686.0,741.8 L682.5,741.9 L678.8,742.0 L674.9,742.1 L671.0,742.3 L666.9,742.6 L662.8,743.0 L658.5,743.5 L654.3,744.1 L650.0,744.9 L645.5,745.7 L640.7,746.6 L635.9,747.6 L631.0,748.7 L625.9,749.9 L620.9,751.1 L615.9,752.4 L610.9,753.7 L606.0,755.1 L601.2,756.6 L596.6,758.1 L591.9,759.8 L587.1,761.7 L582.2,763.7 L577.3,765.9 L572.4,768.1 L567.7,770.4 L563.1,772.6 L558.9,774.6 L555.0,776.5 L551.5,778.2 L548.5,779.6 L546.1,780.7Z" fill="#fff" stroke="#000" stroke-width="0.9"/>
<path d="M711.2,739.3 L722.7,742.9 L711.2,747.2Z" fill="#fff" stroke="#000" stroke-width="0.9"/>
</g>
</g>
<g fill="none" stroke="#111" stroke-width="1.9" stroke-linejoin="round" stroke-linecap="butt">
<g role="img" aria-label="310"><title>310</title><path transform="translate(821.70,230.00)" d="M-4.4,-15.9 L1.7,-15.9 Q4,-15.9 4,-12.9 Q4,-9.6 1.3,-9.6 L-3.2,-9.6 M1.3,-9.6 Q4.4,-9.4 4.4,-4.9 Q4.4,-0.9 1,-0.9 L-2,-0.9 Q-3.8,-0.9 -4.4,-2.1"/>
<path transform="translate(835.90,230.00)" d="M-3.2,-13.600000000000001 L0,-15.9 L0,-0.9 M-4,-0.9 L4,-0.9"/>
<path transform="translate(850.10,230.00)" d="M0,-15.9 A4.9,7.5 0 1,1 0,-0.9 A4.9,7.5 0 1,1 0,-15.9Z"/></g>
<g role="img" aria-label="580"><title>580</title><path transform="translate(525.70,243.00)" d="M-3.5,-15.9 L3.9,-15.9 L3.9,-14.700000000000001 M-2.4,-15.9 L-2.4,-9.0 Q0.5,-9.700000000000001 2.8,-8.200000000000001 Q4.3,-6.9 4.3,-4.4 Q4.3,-0.9 0,-0.9 Q-2.5,-0.9 -3.9,-1.9"/>
<path transform="translate(539.90,243.00)" d="M0,-15.9 A3.9,3.3 0 1,1 0,-9.3 A3.9,3.3 0 1,1 0,-15.9Z M0,-9.3 A4.6,4.2 0 1,1 0,-0.9 A4.6,4.2 0 1,1 0,-9.3Z"/>
<path transform="translate(554.10,243.00)" d="M0,-15.9 A4.9,7.5 0 1,1 0,-0.9 A4.9,7.5 0 1,1 0,-15.9Z"/></g>
<g role="img" aria-label="300"><title>300</title><path transform="translate(672.70,266.00)" d="M-4.4,-15.9 L1.7,-15.9 Q4,-15.9 4,-12.9 Q4,-9.6 1.3,-9.6 L-3.2,-9.6 M1.3,-9.6 Q4.4,-9.4 4.4,-4.9 Q4.4,-0.9 1,-0.9 L-2,-0.9 Q-3.8,-0.9 -4.4,-2.1"/>
<path transform="translate(686.90,266.00)" d="M0,-15.9 A4.9,7.5 0 1,1 0,-0.9 A4.9,7.5 0 1,1 0,-15.9Z"/>
<path transform="translate(701.10,266.00)" d="M0,-15.9 A4.9,7.5 0 1,1 0,-0.9 A4.9,7.5 0 1,1 0,-15.9Z"/></g>
<g role="img" aria-label="430"><title>430</title><path transform="translate(275.70,307.50)" d="M2.2,-15.9 L-4.9,-6.5 L4.9,-6.5 M2.2,-15.9 L2.2,-0.9"/>
<path transform="translate(289.90,307.50)" d="M-4.4,-15.9 L1.7,-15.9 Q4,-15.9 4,-12.9 Q4,-9.6 1.3,-9.6 L-3.2,-9.6 M1.3,-9.6 Q4.4,-9.4 4.4,-4.9 Q4.4,-0.9 1,-0.9 L-2,-0.9 Q-3.8,-0.9 -4.4,-2.1"/>
<path transform="translate(304.10,307.50)" d="M0,-15.9 A4.9,7.5 0 1,1 0,-0.9 A4.9,7.5 0 1,1 0,-15.9Z"/></g>
<g role="img" aria-label="570"><title>570</title><path transform="translate(532.60,356.50)" d="M-3.5,-15.9 L3.9,-15.9 L3.9,-14.700000000000001 M-2.4,-15.9 L-2.4,-9.0 Q0.5,-9.700000000000001 2.8,-8.200000000000001 Q4.3,-6.9 4.3,-4.4 Q4.3,-0.9 0,-0.9 Q-2.5,-0.9 -3.9,-1.9"/>
<path transform="translate(546.80,356.50)" d="M-4.6,-14.6 L-4.6,-15.9 L4.6,-15.9 L-2.8,-0.9"/>
<path transform="translate(561.00,356.50)" d="M0,-15.9 A4.9,7.5 0 1,1 0,-0.9 A4.9,7.5 0 1,1 0,-15.9Z"/></g>
<g role="img" aria-label="570"><title>570</title><path transform="translate(932.10,329.00)" d="M-3.5,-15.9 L3.9,-15.9 L3.9,-14.700000000000001 M-2.4,-15.9 L-2.4,-9.0 Q0.5,-9.700000000000001 2.8,-8.200000000000001 Q4.3,-6.9 4.3,-4.4 Q4.3,-0.9 0,-0.9 Q-2.5,-0.9 -3.9,-1.9"/>
<path transform="translate(946.30,329.00)" d="M-4.6,-14.6 L-4.6,-15.9 L4.6,-15.9 L-2.8,-0.9"/>
<path transform="translate(960.50,329.00)" d="M0,-15.9 A4.9,7.5 0 1,1 0,-0.9 A4.9,7.5 0 1,1 0,-15.9Z"/></g>
<g role="img" aria-label="440"><title>440</title><path transform="translate(246.80,359.00)" d="M2.2,-15.9 L-4.9,-6.5 L4.9,-6.5 M2.2,-15.9 L2.2,-0.9"/>
<path transform="translate(261.00,359.00)" d="M2.2,-15.9 L-4.9,-6.5 L4.9,-6.5 M2.2,-15.9 L2.2,-0.9"/>
<path transform="translate(275.20,359.00)" d="M0,-15.9 A4.9,7.5 0 1,1 0,-0.9 A4.9,7.5 0 1,1 0,-15.9Z"/></g>
<g role="img" aria-label="320"><title>320</title><path transform="translate(828.90,375.00)" d="M-4.4,-15.9 L1.7,-15.9 Q4,-15.9 4,-12.9 Q4,-9.6 1.3,-9.6 L-3.2,-9.6 M1.3,-9.6 Q4.4,-9.4 4.4,-4.9 Q4.4,-0.9 1,-0.9 L-2,-0.9 Q-3.8,-0.9 -4.4,-2.1"/>
<path transform="translate(843.10,375.00)" d="M-4.6,-15.1 L2.2,-15.9 Q4.4,-15.9 4.4,-13.2 Q4.4,-11.4 3.5,-10.4 L-4.6,-0.9 M-2.5,-0.9 L4.6,-0.9"/>
<path transform="translate(857.30,375.00)" d="M0,-15.9 A4.9,7.5 0 1,1 0,-0.9 A4.9,7.5 0 1,1 0,-15.9Z"/></g>
<g role="img" aria-label="330"><title>330</title><path transform="translate(824.60,409.50)" d="M-4.4,-15.9 L1.7,-15.9 Q4,-15.9 4,-12.9 Q4,-9.6 1.3,-9.6 L-3.2,-9.6 M1.3,-9.6 Q4.4,-9.4 4.4,-4.9 Q4.4,-0.9 1,-0.9 L-2,-0.9 Q-3.8,-0.9 -4.4,-2.1"/>
<path transform="translate(838.80,409.50)" d="M-4.4,-15.9 L1.7,-15.9 Q4,-15.9 4,-12.9 Q4,-9.6 1.3,-9.6 L-3.2,-9.6 M1.3,-9.6 Q4.4,-9.4 4.4,-4.9 Q4.4,-0.9 1,-0.9 L-2,-0.9 Q-3.8,-0.9 -4.4,-2.1"/>
<path transform="translate(853.00,409.50)" d="M0,-15.9 A4.9,7.5 0 1,1 0,-0.9 A4.9,7.5 0 1,1 0,-15.9Z"/></g>
<g role="img" aria-label="230"><title>230</title><path transform="translate(1195.50,372.50)" d="M-4.6,-15.1 L2.2,-15.9 Q4.4,-15.9 4.4,-13.2 Q4.4,-11.4 3.5,-10.4 L-4.6,-0.9 M-2.5,-0.9 L4.6,-0.9"/>
<path transform="translate(1209.70,372.50)" d="M-4.4,-15.9 L1.7,-15.9 Q4,-15.9 4,-12.9 Q4,-9.6 1.3,-9.6 L-3.2,-9.6 M1.3,-9.6 Q4.4,-9.4 4.4,-4.9 Q4.4,-0.9 1,-0.9 L-2,-0.9 Q-3.8,-0.9 -4.4,-2.1"/>
<path transform="translate(1223.90,372.50)" d="M0,-15.9 A4.9,7.5 0 1,1 0,-0.9 A4.9,7.5 0 1,1 0,-15.9Z"/></g>
<g role="img" aria-label="220"><title>220</title><path transform="translate(1164.10,400.30)" d="M-4.6,-15.1 L2.2,-15.9 Q4.4,-15.9 4.4,-13.2 Q4.4,-11.4 3.5,-10.4 L-4.6,-0.9 M-2.5,-0.9 L4.6,-0.9"/>
<path transform="translate(1178.30,400.30)" d="M-4.6,-15.1 L2.2,-15.9 Q4.4,-15.9 4.4,-13.2 Q4.4,-11.4 3.5,-10.4 L-4.6,-0.9 M-2.5,-0.9 L4.6,-0.9"/>
<path transform="translate(1192.50,400.30)" d="M0,-15.9 A4.9,7.5 0 1,1 0,-0.9 A4.9,7.5 0 1,1 0,-15.9Z"/></g>
<g role="img" aria-label="200"><title>200</title><path transform="translate(1059.00,403.30)" d="M-4.6,-15.1 L2.2,-15.9 Q4.4,-15.9 4.4,-13.2 Q4.4,-11.4 3.5,-10.4 L-4.6,-0.9 M-2.5,-0.9 L4.6,-0.9"/>
<path transform="translate(1073.20,403.30)" d="M0,-15.9 A4.9,7.5 0 1,1 0,-0.9 A4.9,7.5 0 1,1 0,-15.9Z"/>
<path transform="translate(1087.40,403.30)" d="M0,-15.9 A4.9,7.5 0 1,1 0,-0.9 A4.9,7.5 0 1,1 0,-15.9Z"/></g>
<g role="img" aria-label="400"><title>400</title><path transform="translate(379.70,419.70)" d="M2.2,-15.9 L-4.9,-6.5 L4.9,-6.5 M2.2,-15.9 L2.2,-0.9"/>
<path transform="translate(393.90,419.70)" d="M0,-15.9 A4.9,7.5 0 1,1 0,-0.9 A4.9,7.5 0 1,1 0,-15.9Z"/>
<path transform="translate(408.10,419.70)" d="M0,-15.9 A4.9,7.5 0 1,1 0,-0.9 A4.9,7.5 0 1,1 0,-15.9Z"/></g>
<g role="img" aria-label="410"><title>410</title><path transform="translate(540.20,425.30)" d="M2.2,-15.9 L-4.9,-6.5 L4.9,-6.5 M2.2,-15.9 L2.2,-0.9"/>
<path transform="translate(554.40,425.30)" d="M-3.2,-13.600000000000001 L0,-15.9 L0,-0.9 M-4,-0.9 L4,-0.9"/>
<path transform="translate(568.60,425.30)" d="M0,-15.9 A4.9,7.5 0 1,1 0,-0.9 A4.9,7.5 0 1,1 0,-15.9Z"/></g>
<g role="img" aria-label="450"><title>450</title><path transform="translate(198.40,456.00)" d="M2.2,-15.9 L-4.9,-6.5 L4.9,-6.5 M2.2,-15.9 L2.2,-0.9"/>
<path transform="translate(212.60,456.00)" d="M-3.5,-15.9 L3.9,-15.9 L3.9,-14.700000000000001 M-2.4,-15.9 L-2.4,-9.0 Q0.5,-9.700000000000001 2.8,-8.200000000000001 Q4.3,-6.9 4.3,-4.4 Q4.3,-0.9 0,-0.9 Q-2.5,-0.9 -3.9,-1.9"/>
<path transform="translate(226.80,456.00)" d="M0,-15.9 A4.9,7.5 0 1,1 0,-0.9 A4.9,7.5 0 1,1 0,-15.9Z"/></g>
<g role="img" aria-label="580"><title>580</title><path transform="translate(867.80,446.00)" d="M-3.5,-15.9 L3.9,-15.9 L3.9,-14.700000000000001 M-2.4,-15.9 L-2.4,-9.0 Q0.5,-9.700000000000001 2.8,-8.200000000000001 Q4.3,-6.9 4.3,-4.4 Q4.3,-0.9 0,-0.9 Q-2.5,-0.9 -3.9,-1.9"/>
<path transform="translate(882.00,446.00)" d="M0,-15.9 A3.9,3.3 0 1,1 0,-9.3 A3.9,3.3 0 1,1 0,-15.9Z M0,-9.3 A4.6,4.2 0 1,1 0,-0.9 A4.6,4.2 0 1,1 0,-9.3Z"/>
<path transform="translate(896.20,446.00)" d="M0,-15.9 A4.9,7.5 0 1,1 0,-0.9 A4.9,7.5 0 1,1 0,-15.9Z"/></g>
<g role="img" aria-label="460"><title>460</title><path transform="translate(185.80,491.00)" d="M2.2,-15.9 L-4.9,-6.5 L4.9,-6.5 M2.2,-15.9 L2.2,-0.9"/>
<path transform="translate(200.00,491.00)" d="M4.4,-14.700000000000001 Q3,-15.9 0.5,-15.9 Q-4.4,-15.9 -4.4,-7.4 L-4.4,-4.9 Q-4.4,-0.9 0,-0.9 Q4.6,-0.9 4.6,-4.9 Q4.6,-9.4 0.5,-9.4 Q-2.8,-9.4 -4.4,-6.4"/>
<path transform="translate(214.20,491.00)" d="M0,-15.9 A4.9,7.5 0 1,1 0,-0.9 A4.9,7.5 0 1,1 0,-15.9Z"/></g>
<g role="img" aria-label="210"><title>210</title><path transform="translate(1137.50,535.30)" d="M-4.6,-15.1 L2.2,-15.9 Q4.4,-15.9 4.4,-13.2 Q4.4,-11.4 3.5,-10.4 L-4.6,-0.9 M-2.5,-0.9 L4.6,-0.9"/>
<path transform="translate(1151.70,535.30)" d="M-3.2,-13.600000000000001 L0,-15.9 L0,-0.9 M-4,-0.9 L4,-0.9"/>
<path transform="translate(1165.90,535.30)" d="M0,-15.9 A4.9,7.5 0 1,1 0,-0.9 A4.9,7.5 0 1,1 0,-15.9Z"/></g>
<g role="img" aria-label="510"><title>510</title><path transform="translate(407.50,585.50)" d="M-3.5,-15.9 L3.9,-15.9 L3.9,-14.700000000000001 M-2.4,-15.9 L-2.4,-9.0 Q0.5,-9.700000000000001 2.8,-8.200000000000001 Q4.3,-6.9 4.3,-4.4 Q4.3,-0.9 0,-0.9 Q-2.5,-0.9 -3.9,-1.9"/>
<path transform="translate(421.70,585.50)" d="M-3.2,-13.600000000000001 L0,-15.9 L0,-0.9 M-4,-0.9 L4,-0.9"/>
<path transform="translate(435.90,585.50)" d="M0,-15.9 A4.9,7.5 0 1,1 0,-0.9 A4.9,7.5 0 1,1 0,-15.9Z"/></g>
<g role="img" aria-label="580"><title>580</title><path transform="translate(249.20,648.80)" d="M-3.5,-15.9 L3.9,-15.9 L3.9,-14.700000000000001 M-2.4,-15.9 L-2.4,-9.0 Q0.5,-9.700000000000001 2.8,-8.200000000000001 Q4.3,-6.9 4.3,-4.4 Q4.3,-0.9 0,-0.9 Q-2.5,-0.9 -3.9,-1.9"/>
<path transform="translate(263.40,648.80)" d="M0,-15.9 A3.9,3.3 0 1,1 0,-9.3 A3.9,3.3 0 1,1 0,-15.9Z M0,-9.3 A4.6,4.2 0 1,1 0,-0.9 A4.6,4.2 0 1,1 0,-9.3Z"/>
<path transform="translate(277.60,648.80)" d="M0,-15.9 A4.9,7.5 0 1,1 0,-0.9 A4.9,7.5 0 1,1 0,-15.9Z"/></g>
<g role="img" aria-label="500"><title>500</title><path transform="translate(364.20,701.80)" d="M-3.5,-15.9 L3.9,-15.9 L3.9,-14.700000000000001 M-2.4,-15.9 L-2.4,-9.0 Q0.5,-9.700000000000001 2.8,-8.200000000000001 Q4.3,-6.9 4.3,-4.4 Q4.3,-0.9 0,-0.9 Q-2.5,-0.9 -3.9,-1.9"/>
<path transform="translate(378.40,701.80)" d="M0,-15.9 A4.9,7.5 0 1,1 0,-0.9 A4.9,7.5 0 1,1 0,-15.9Z"/>
<path transform="translate(392.60,701.80)" d="M0,-15.9 A4.9,7.5 0 1,1 0,-0.9 A4.9,7.5 0 1,1 0,-15.9Z"/></g>
<g role="img" aria-label="570"><title>570</title><path transform="translate(172.50,733.00)" d="M-3.5,-15.9 L3.9,-15.9 L3.9,-14.700000000000001 M-2.4,-15.9 L-2.4,-9.0 Q0.5,-9.700000000000001 2.8,-8.200000000000001 Q4.3,-6.9 4.3,-4.4 Q4.3,-0.9 0,-0.9 Q-2.5,-0.9 -3.9,-1.9"/>
<path transform="translate(186.70,733.00)" d="M-4.6,-14.6 L-4.6,-15.9 L4.6,-15.9 L-2.8,-0.9"/>
<path transform="translate(200.90,733.00)" d="M0,-15.9 A4.9,7.5 0 1,1 0,-0.9 A4.9,7.5 0 1,1 0,-15.9Z"/></g>
<g role="img" aria-label="520"><title>520</title><path transform="translate(562.90,730.60)" d="M-3.5,-15.9 L3.9,-15.9 L3.9,-14.700000000000001 M-2.4,-15.9 L-2.4,-9.0 Q0.5,-9.700000000000001 2.8,-8.200000000000001 Q4.3,-6.9 4.3,-4.4 Q4.3,-0.9 0,-0.9 Q-2.5,-0.9 -3.9,-1.9"/>
<path transform="translate(577.10,730.60)" d="M-4.6,-15.1 L2.2,-15.9 Q4.4,-15.9 4.4,-13.2 Q4.4,-11.4 3.5,-10.4 L-4.6,-0.9 M-2.5,-0.9 L4.6,-0.9"/>
<path transform="translate(591.30,730.60)" d="M0,-15.9 A4.9,7.5 0 1,1 0,-0.9 A4.9,7.5 0 1,1 0,-15.9Z"/></g>
<g role="img" aria-label="530"><title>530</title><path transform="translate(485.50,831.00)" d="M-3.5,-15.9 L3.9,-15.9 L3.9,-14.700000000000001 M-2.4,-15.9 L-2.4,-9.0 Q0.5,-9.700000000000001 2.8,-8.200000000000001 Q4.3,-6.9 4.3,-4.4 Q4.3,-0.9 0,-0.9 Q-2.5,-0.9 -3.9,-1.9"/>
<path transform="translate(499.70,831.00)" d="M-4.4,-15.9 L1.7,-15.9 Q4,-15.9 4,-12.9 Q4,-9.6 1.3,-9.6 L-3.2,-9.6 M1.3,-9.6 Q4.4,-9.4 4.4,-4.9 Q4.4,-0.9 1,-0.9 L-2,-0.9 Q-3.8,-0.9 -4.4,-2.1"/>
<path transform="translate(513.90,831.00)" d="M0,-15.9 A4.9,7.5 0 1,1 0,-0.9 A4.9,7.5 0 1,1 0,-15.9Z"/></g>
<g role="img" aria-label="540"><title>540</title><path transform="translate(456.00,860.00)" d="M-3.5,-15.9 L3.9,-15.9 L3.9,-14.700000000000001 M-2.4,-15.9 L-2.4,-9.0 Q0.5,-9.700000000000001 2.8,-8.200000000000001 Q4.3,-6.9 4.3,-4.4 Q4.3,-0.9 0,-0.9 Q-2.5,-0.9 -3.9,-1.9"/>
<path transform="translate(470.20,860.00)" d="M2.2,-15.9 L-4.9,-6.5 L4.9,-6.5 M2.2,-15.9 L2.2,-0.9"/>
<path transform="translate(484.40,860.00)" d="M0,-15.9 A4.9,7.5 0 1,1 0,-0.9 A4.9,7.5 0 1,1 0,-15.9Z"/></g>
</g>
<g fill="none" stroke="#fff" stroke-width="1.0" stroke-linejoin="round" stroke-linecap="butt">
<path transform="translate(821.70,230.00)" d="M-4.4,-15.9 L1.7,-15.9 Q4,-15.9 4,-12.9 Q4,-9.6 1.3,-9.6 L-3.2,-9.6 M1.3,-9.6 Q4.4,-9.4 4.4,-4.9 Q4.4,-0.9 1,-0.9 L-2,-0.9 Q-3.8,-0.9 -4.4,-2.1"/>
<path transform="translate(835.90,230.00)" d="M-3.2,-13.600000000000001 L0,-15.9 L0,-0.9 M-4,-0.9 L4,-0.9"/>
<path transform="translate(850.10,230.00)" d="M0,-15.9 A4.9,7.5 0 1,1 0,-0.9 A4.9,7.5 0 1,1 0,-15.9Z"/>
<path transform="translate(525.70,243.00)" d="M-3.5,-15.9 L3.9,-15.9 L3.9,-14.700000000000001 M-2.4,-15.9 L-2.4,-9.0 Q0.5,-9.700000000000001 2.8,-8.200000000000001 Q4.3,-6.9 4.3,-4.4 Q4.3,-0.9 0,-0.9 Q-2.5,-0.9 -3.9,-1.9"/>
<path transform="translate(539.90,243.00)" d="M0,-15.9 A3.9,3.3 0 1,1 0,-9.3 A3.9,3.3 0 1,1 0,-15.9Z M0,-9.3 A4.6,4.2 0 1,1 0,-0.9 A4.6,4.2 0 1,1 0,-9.3Z"/>
<path transform="translate(554.10,243.00)" d="M0,-15.9 A4.9,7.5 0 1,1 0,-0.9 A4.9,7.5 0 1,1 0,-15.9Z"/>
<path transform="translate(672.70,266.00)" d="M-4.4,-15.9 L1.7,-15.9 Q4,-15.9 4,-12.9 Q4,-9.6 1.3,-9.6 L-3.2,-9.6 M1.3,-9.6 Q4.4,-9.4 4.4,-4.9 Q4.4,-0.9 1,-0.9 L-2,-0.9 Q-3.8,-0.9 -4.4,-2.1"/>
<path transform="translate(686.90,266.00)" d="M0,-15.9 A4.9,7.5 0 1,1 0,-0.9 A4.9,7.5 0 1,1 0,-15.9Z"/>
<path transform="translate(701.10,266.00)" d="M0,-15.9 A4.9,7.5 0 1,1 0,-0.9 A4.9,7.5 0 1,1 0,-15.9Z"/>
<path transform="translate(275.70,307.50)" d="M2.2,-15.9 L-4.9,-6.5 L4.9,-6.5 M2.2,-15.9 L2.2,-0.9"/>
<path transform="translate(289.90,307.50)" d="M-4.4,-15.9 L1.7,-15.9 Q4,-15.9 4,-12.9 Q4,-9.6 1.3,-9.6 L-3.2,-9.6 M1.3,-9.6 Q4.4,-9.4 4.4,-4.9 Q4.4,-0.9 1,-0.9 L-2,-0.9 Q-3.8,-0.9 -4.4,-2.1"/>
<path transform="translate(304.10,307.50)" d="M0,-15.9 A4.9,7.5 0 1,1 0,-0.9 A4.9,7.5 0 1,1 0,-15.9Z"/>
<path transform="translate(532.60,356.50)" d="M-3.5,-15.9 L3.9,-15.9 L3.9,-14.700000000000001 M-2.4,-15.9 L-2.4,-9.0 Q0.5,-9.700000000000001 2.8,-8.200000000000001 Q4.3,-6.9 4.3,-4.4 Q4.3,-0.9 0,-0.9 Q-2.5,-0.9 -3.9,-1.9"/>
<path transform="translate(546.80,356.50)" d="M-4.6,-14.6 L-4.6,-15.9 L4.6,-15.9 L-2.8,-0.9"/>
<path transform="translate(561.00,356.50)" d="M0,-15.9 A4.9,7.5 0 1,1 0,-0.9 A4.9,7.5 0 1,1 0,-15.9Z"/>
<path transform="translate(932.10,329.00)" d="M-3.5,-15.9 L3.9,-15.9 L3.9,-14.700000000000001 M-2.4,-15.9 L-2.4,-9.0 Q0.5,-9.700000000000001 2.8,-8.200000000000001 Q4.3,-6.9 4.3,-4.4 Q4.3,-0.9 0,-0.9 Q-2.5,-0.9 -3.9,-1.9"/>
<path transform="translate(946.30,329.00)" d="M-4.6,-14.6 L-4.6,-15.9 L4.6,-15.9 L-2.8,-0.9"/>
<path transform="translate(960.50,329.00)" d="M0,-15.9 A4.9,7.5 0 1,1 0,-0.9 A4.9,7.5 0 1,1 0,-15.9Z"/>
<path transform="translate(246.80,359.00)" d="M2.2,-15.9 L-4.9,-6.5 L4.9,-6.5 M2.2,-15.9 L2.2,-0.9"/>
<path transform="translate(261.00,359.00)" d="M2.2,-15.9 L-4.9,-6.5 L4.9,-6.5 M2.2,-15.9 L2.2,-0.9"/>
<path transform="translate(275.20,359.00)" d="M0,-15.9 A4.9,7.5 0 1,1 0,-0.9 A4.9,7.5 0 1,1 0,-15.9Z"/>
<path transform="translate(828.90,375.00)" d="M-4.4,-15.9 L1.7,-15.9 Q4,-15.9 4,-12.9 Q4,-9.6 1.3,-9.6 L-3.2,-9.6 M1.3,-9.6 Q4.4,-9.4 4.4,-4.9 Q4.4,-0.9 1,-0.9 L-2,-0.9 Q-3.8,-0.9 -4.4,-2.1"/>
<path transform="translate(843.10,375.00)" d="M-4.6,-15.1 L2.2,-15.9 Q4.4,-15.9 4.4,-13.2 Q4.4,-11.4 3.5,-10.4 L-4.6,-0.9 M-2.5,-0.9 L4.6,-0.9"/>
<path transform="translate(857.30,375.00)" d="M0,-15.9 A4.9,7.5 0 1,1 0,-0.9 A4.9,7.5 0 1,1 0,-15.9Z"/>
<path transform="translate(824.60,409.50)" d="M-4.4,-15.9 L1.7,-15.9 Q4,-15.9 4,-12.9 Q4,-9.6 1.3,-9.6 L-3.2,-9.6 M1.3,-9.6 Q4.4,-9.4 4.4,-4.9 Q4.4,-0.9 1,-0.9 L-2,-0.9 Q-3.8,-0.9 -4.4,-2.1"/>
<path transform="translate(838.80,409.50)" d="M-4.4,-15.9 L1.7,-15.9 Q4,-15.9 4,-12.9 Q4,-9.6 1.3,-9.6 L-3.2,-9.6 M1.3,-9.6 Q4.4,-9.4 4.4,-4.9 Q4.4,-0.9 1,-0.9 L-2,-0.9 Q-3.8,-0.9 -4.4,-2.1"/>
<path transform="translate(853.00,409.50)" d="M0,-15.9 A4.9,7.5 0 1,1 0,-0.9 A4.9,7.5 0 1,1 0,-15.9Z"/>
<path transform="translate(1195.50,372.50)" d="M-4.6,-15.1 L2.2,-15.9 Q4.4,-15.9 4.4,-13.2 Q4.4,-11.4 3.5,-10.4 L-4.6,-0.9 M-2.5,-0.9 L4.6,-0.9"/>
<path transform="translate(1209.70,372.50)" d="M-4.4,-15.9 L1.7,-15.9 Q4,-15.9 4,-12.9 Q4,-9.6 1.3,-9.6 L-3.2,-9.6 M1.3,-9.6 Q4.4,-9.4 4.4,-4.9 Q4.4,-0.9 1,-0.9 L-2,-0.9 Q-3.8,-0.9 -4.4,-2.1"/>
<path transform="translate(1223.90,372.50)" d="M0,-15.9 A4.9,7.5 0 1,1 0,-0.9 A4.9,7.5 0 1,1 0,-15.9Z"/>
<path transform="translate(1164.10,400.30)" d="M-4.6,-15.1 L2.2,-15.9 Q4.4,-15.9 4.4,-13.2 Q4.4,-11.4 3.5,-10.4 L-4.6,-0.9 M-2.5,-0.9 L4.6,-0.9"/>
<path transform="translate(1178.30,400.30)" d="M-4.6,-15.1 L2.2,-15.9 Q4.4,-15.9 4.4,-13.2 Q4.4,-11.4 3.5,-10.4 L-4.6,-0.9 M-2.5,-0.9 L4.6,-0.9"/>
<path transform="translate(1192.50,400.30)" d="M0,-15.9 A4.9,7.5 0 1,1 0,-0.9 A4.9,7.5 0 1,1 0,-15.9Z"/>
<path transform="translate(1059.00,403.30)" d="M-4.6,-15.1 L2.2,-15.9 Q4.4,-15.9 4.4,-13.2 Q4.4,-11.4 3.5,-10.4 L-4.6,-0.9 M-2.5,-0.9 L4.6,-0.9"/>
<path transform="translate(1073.20,403.30)" d="M0,-15.9 A4.9,7.5 0 1,1 0,-0.9 A4.9,7.5 0 1,1 0,-15.9Z"/>
<path transform="translate(1087.40,403.30)" d="M0,-15.9 A4.9,7.5 0 1,1 0,-0.9 A4.9,7.5 0 1,1 0,-15.9Z"/>
<path transform="translate(379.70,419.70)" d="M2.2,-15.9 L-4.9,-6.5 L4.9,-6.5 M2.2,-15.9 L2.2,-0.9"/>
<path transform="translate(393.90,419.70)" d="M0,-15.9 A4.9,7.5 0 1,1 0,-0.9 A4.9,7.5 0 1,1 0,-15.9Z"/>
<path transform="translate(408.10,419.70)" d="M0,-15.9 A4.9,7.5 0 1,1 0,-0.9 A4.9,7.5 0 1,1 0,-15.9Z"/>
<path transform="translate(540.20,425.30)" d="M2.2,-15.9 L-4.9,-6.5 L4.9,-6.5 M2.2,-15.9 L2.2,-0.9"/>
<path transform="translate(554.40,425.30)" d="M-3.2,-13.600000000000001 L0,-15.9 L0,-0.9 M-4,-0.9 L4,-0.9"/>
<path transform="translate(568.60,425.30)" d="M0,-15.9 A4.9,7.5 0 1,1 0,-0.9 A4.9,7.5 0 1,1 0,-15.9Z"/>
<path transform="translate(198.40,456.00)" d="M2.2,-15.9 L-4.9,-6.5 L4.9,-6.5 M2.2,-15.9 L2.2,-0.9"/>
<path transform="translate(212.60,456.00)" d="M-3.5,-15.9 L3.9,-15.9 L3.9,-14.700000000000001 M-2.4,-15.9 L-2.4,-9.0 Q0.5,-9.700000000000001 2.8,-8.200000000000001 Q4.3,-6.9 4.3,-4.4 Q4.3,-0.9 0,-0.9 Q-2.5,-0.9 -3.9,-1.9"/>
<path transform="translate(226.80,456.00)" d="M0,-15.9 A4.9,7.5 0 1,1 0,-0.9 A4.9,7.5 0 1,1 0,-15.9Z"/>
<path transform="translate(867.80,446.00)" d="M-3.5,-15.9 L3.9,-15.9 L3.9,-14.700000000000001 M-2.4,-15.9 L-2.4,-9.0 Q0.5,-9.700000000000001 2.8,-8.200000000000001 Q4.3,-6.9 4.3,-4.4 Q4.3,-0.9 0,-0.9 Q-2.5,-0.9 -3.9,-1.9"/>
<path transform="translate(882.00,446.00)" d="M0,-15.9 A3.9,3.3 0 1,1 0,-9.3 A3.9,3.3 0 1,1 0,-15.9Z M0,-9.3 A4.6,4.2 0 1,1 0,-0.9 A4.6,4.2 0 1,1 0,-9.3Z"/>
<path transform="translate(896.20,446.00)" d="M0,-15.9 A4.9,7.5 0 1,1 0,-0.9 A4.9,7.5 0 1,1 0,-15.9Z"/>
<path transform="translate(185.80,491.00)" d="M2.2,-15.9 L-4.9,-6.5 L4.9,-6.5 M2.2,-15.9 L2.2,-0.9"/>
<path transform="translate(200.00,491.00)" d="M4.4,-14.700000000000001 Q3,-15.9 0.5,-15.9 Q-4.4,-15.9 -4.4,-7.4 L-4.4,-4.9 Q-4.4,-0.9 0,-0.9 Q4.6,-0.9 4.6,-4.9 Q4.6,-9.4 0.5,-9.4 Q-2.8,-9.4 -4.4,-6.4"/>
<path transform="translate(214.20,491.00)" d="M0,-15.9 A4.9,7.5 0 1,1 0,-0.9 A4.9,7.5 0 1,1 0,-15.9Z"/>
<path transform="translate(1137.50,535.30)" d="M-4.6,-15.1 L2.2,-15.9 Q4.4,-15.9 4.4,-13.2 Q4.4,-11.4 3.5,-10.4 L-4.6,-0.9 M-2.5,-0.9 L4.6,-0.9"/>
<path transform="translate(1151.70,535.30)" d="M-3.2,-13.600000000000001 L0,-15.9 L0,-0.9 M-4,-0.9 L4,-0.9"/>
<path transform="translate(1165.90,535.30)" d="M0,-15.9 A4.9,7.5 0 1,1 0,-0.9 A4.9,7.5 0 1,1 0,-15.9Z"/>
<path transform="translate(407.50,585.50)" d="M-3.5,-15.9 L3.9,-15.9 L3.9,-14.700000000000001 M-2.4,-15.9 L-2.4,-9.0 Q0.5,-9.700000000000001 2.8,-8.200000000000001 Q4.3,-6.9 4.3,-4.4 Q4.3,-0.9 0,-0.9 Q-2.5,-0.9 -3.9,-1.9"/>
<path transform="translate(421.70,585.50)" d="M-3.2,-13.600000000000001 L0,-15.9 L0,-0.9 M-4,-0.9 L4,-0.9"/>
<path transform="translate(435.90,585.50)" d="M0,-15.9 A4.9,7.5 0 1,1 0,-0.9 A4.9,7.5 0 1,1 0,-15.9Z"/>
<path transform="translate(249.20,648.80)" d="M-3.5,-15.9 L3.9,-15.9 L3.9,-14.700000000000001 M-2.4,-15.9 L-2.4,-9.0 Q0.5,-9.700000000000001 2.8,-8.200000000000001 Q4.3,-6.9 4.3,-4.4 Q4.3,-0.9 0,-0.9 Q-2.5,-0.9 -3.9,-1.9"/>
<path transform="translate(263.40,648.80)" d="M0,-15.9 A3.9,3.3 0 1,1 0,-9.3 A3.9,3.3 0 1,1 0,-15.9Z M0,-9.3 A4.6,4.2 0 1,1 0,-0.9 A4.6,4.2 0 1,1 0,-9.3Z"/>
<path transform="translate(277.60,648.80)" d="M0,-15.9 A4.9,7.5 0 1,1 0,-0.9 A4.9,7.5 0 1,1 0,-15.9Z"/>
<path transform="translate(364.20,701.80)" d="M-3.5,-15.9 L3.9,-15.9 L3.9,-14.700000000000001 M-2.4,-15.9 L-2.4,-9.0 Q0.5,-9.700000000000001 2.8,-8.200000000000001 Q4.3,-6.9 4.3,-4.4 Q4.3,-0.9 0,-0.9 Q-2.5,-0.9 -3.9,-1.9"/>
<path transform="translate(378.40,701.80)" d="M0,-15.9 A4.9,7.5 0 1,1 0,-0.9 A4.9,7.5 0 1,1 0,-15.9Z"/>
<path transform="translate(392.60,701.80)" d="M0,-15.9 A4.9,7.5 0 1,1 0,-0.9 A4.9,7.5 0 1,1 0,-15.9Z"/>
<path transform="translate(172.50,733.00)" d="M-3.5,-15.9 L3.9,-15.9 L3.9,-14.700000000000001 M-2.4,-15.9 L-2.4,-9.0 Q0.5,-9.700000000000001 2.8,-8.200000000000001 Q4.3,-6.9 4.3,-4.4 Q4.3,-0.9 0,-0.9 Q-2.5,-0.9 -3.9,-1.9"/>
<path transform="translate(186.70,733.00)" d="M-4.6,-14.6 L-4.6,-15.9 L4.6,-15.9 L-2.8,-0.9"/>
<path transform="translate(200.90,733.00)" d="M0,-15.9 A4.9,7.5 0 1,1 0,-0.9 A4.9,7.5 0 1,1 0,-15.9Z"/>
<path transform="translate(562.90,730.60)" d="M-3.5,-15.9 L3.9,-15.9 L3.9,-14.700000000000001 M-2.4,-15.9 L-2.4,-9.0 Q0.5,-9.700000000000001 2.8,-8.200000000000001 Q4.3,-6.9 4.3,-4.4 Q4.3,-0.9 0,-0.9 Q-2.5,-0.9 -3.9,-1.9"/>
<path transform="translate(577.10,730.60)" d="M-4.6,-15.1 L2.2,-15.9 Q4.4,-15.9 4.4,-13.2 Q4.4,-11.4 3.5,-10.4 L-4.6,-0.9 M-2.5,-0.9 L4.6,-0.9"/>
<path transform="translate(591.30,730.60)" d="M0,-15.9 A4.9,7.5 0 1,1 0,-0.9 A4.9,7.5 0 1,1 0,-15.9Z"/>
<path transform="translate(485.50,831.00)" d="M-3.5,-15.9 L3.9,-15.9 L3.9,-14.700000000000001 M-2.4,-15.9 L-2.4,-9.0 Q0.5,-9.700000000000001 2.8,-8.200000000000001 Q4.3,-6.9 4.3,-4.4 Q4.3,-0.9 0,-0.9 Q-2.5,-0.9 -3.9,-1.9"/>
<path transform="translate(499.70,831.00)" d="M-4.4,-15.9 L1.7,-15.9 Q4,-15.9 4,-12.9 Q4,-9.6 1.3,-9.6 L-3.2,-9.6 M1.3,-9.6 Q4.4,-9.4 4.4,-4.9 Q4.4,-0.9 1,-0.9 L-2,-0.9 Q-3.8,-0.9 -4.4,-2.1"/>
<path transform="translate(513.90,831.00)" d="M0,-15.9 A4.9,7.5 0 1,1 0,-0.9 A4.9,7.5 0 1,1 0,-15.9Z"/>
<path transform="translate(456.00,860.00)" d="M-3.5,-15.9 L3.9,-15.9 L3.9,-14.700000000000001 M-2.4,-15.9 L-2.4,-9.0 Q0.5,-9.700000000000001 2.8,-8.200000000000001 Q4.3,-6.9 4.3,-4.4 Q4.3,-0.9 0,-0.9 Q-2.5,-0.9 -3.9,-1.9"/>
<path transform="translate(470.20,860.00)" d="M2.2,-15.9 L-4.9,-6.5 L4.9,-6.5 M2.2,-15.9 L2.2,-0.9"/>
<path transform="translate(484.40,860.00)" d="M0,-15.9 A4.9,7.5 0 1,1 0,-0.9 A4.9,7.5 0 1,1 0,-15.9Z"/>
</g>
<path fill="#f00" fill-rule="evenodd" d="M185.8,432 H241 V465 H185.8 Z M192.2,437 V460.2 H235.2 V437 Z"/>
</svg>
</body></html>
